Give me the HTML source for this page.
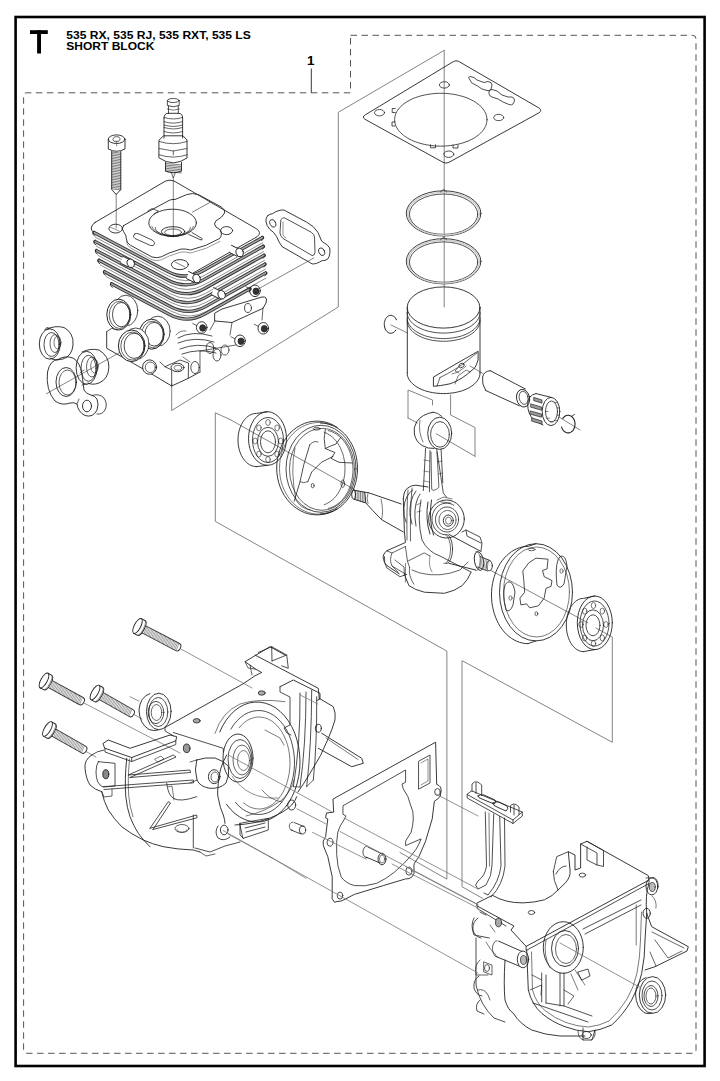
<!DOCTYPE html>
<html><head><meta charset="utf-8">
<style>
html,body{margin:0;padding:0;background:#fff;width:720px;height:1081px;overflow:hidden}
svg{position:absolute;left:0;top:0}
.t{font-family:"Liberation Sans",sans-serif;font-weight:bold;fill:#000}
</style></head>
<body>
<svg width="720" height="1081" viewBox="0 0 720 1081">
<rect x="15.6" y="17" width="689" height="1049" fill="none" stroke="#000" stroke-width="2.6"/>
<rect x="30" y="30.2" width="17.8" height="3.8" fill="#000"/><rect x="37.1" y="30.2" width="3.9" height="23.3" fill="#000"/>
<text class="t" x="66.3" y="38.8" font-size="11.4" textLength="184.5" lengthAdjust="spacingAndGlyphs">535 RX, 535 RJ, 535 RXT, 535 LS</text>
<text class="t" x="66.3" y="50.4" font-size="11.4" textLength="88" lengthAdjust="spacingAndGlyphs">SHORT BLOCK</text>
<text class="t" x="307" y="65.2" font-size="13.5">1</text>
<line x1="311.3" y1="68.5" x2="311.3" y2="92.8" stroke="#222" stroke-width="0.9"/>
<path d="M350.5 35.3 H692.5 Q696 35.3 696 38.8 V1049.8 Q696 1053.3 692.5 1053.3 H27 Q23.6 1053.3 23.6 1049.8 V95.8 Q23.6 92.8 26.6 92.8 H350.5 Z" fill="none" stroke="#555" stroke-width="1" stroke-dasharray="6.5 4.5"/>
<g id="art" fill="none" stroke="#111" stroke-width="0.9" stroke-linejoin="round" stroke-linecap="round">
<path d="M444.2 50.4 L338.3 112.3 V307 L171.7 410.5 V384" stroke="#777" stroke-width="0.9" fill="none" />
<line x1="444.2" y1="50.4" x2="444.2" y2="307.0" stroke="#777" stroke-width="0.9"/>
<line x1="173.3" y1="178.0" x2="173.3" y2="237.0" stroke="#777" stroke-width="0.9"/>
<line x1="116.2" y1="194.0" x2="116.2" y2="228.0" stroke="#777" stroke-width="0.9"/>
<line x1="313.8" y1="258.0" x2="256.4" y2="290.0" stroke="#777" stroke-width="0.9"/>
<line x1="46.3" y1="393.8" x2="137.5" y2="342.5" stroke="#777" stroke-width="0.9"/>
<line x1="391.0" y1="325.0" x2="407.5" y2="333.0" stroke="#777" stroke-width="0.9"/>
<line x1="470.0" y1="366.0" x2="483.0" y2="373.5" stroke="#777" stroke-width="0.9"/>
<line x1="559.0" y1="417.0" x2="580.0" y2="430.0" stroke="#777" stroke-width="0.9"/>
<path d="M408 418 V390 L432.5 400 V405" stroke="#777" stroke-width="0.9" fill="none" />
<path d="M408 418 L417.5 423" stroke="#777" stroke-width="0.9" fill="none" />
<path d="M450.6 395 V415 L475 427.5 V456.3" stroke="#777" stroke-width="0.9" fill="none" />
<line x1="436.3" y1="433.8" x2="475.0" y2="456.3" stroke="#777" stroke-width="0.9"/>
<path d="M230 419.5 L215.3 412.8 V521.4 L446.9 651.1 V879.2 L400 852.5" stroke="#777" stroke-width="0.9" fill="none" />
<line x1="230.0" y1="419.5" x2="354.5" y2="489.5" stroke="#777" stroke-width="0.9"/>
<line x1="490.0" y1="570.0" x2="587.8" y2="622.8" stroke="#777" stroke-width="0.9"/>
<path d="M596 628 L612.3 637 V742.3 L462 660.6 V886.7 L482.5 898.3" stroke="#777" stroke-width="0.9" fill="none" />
<path d="M453.5 61.5 Q456 60 458.5 61.3 L539 108 Q542.5 110.5 539 112.8 L449 162.3 Q446 164 443 162.3 L365 119.3 Q361.5 117 365 115 Z" stroke="#222" stroke-width="0.9" fill="none" />
<path d="M487.0 119.7 L486.9 121.1 L486.7 122.5 L486.4 123.8 L486.0 125.2 L485.4 126.5 L484.7 127.9 L483.9 129.2 L483.0 130.4 L482.0 131.7 L480.8 132.9 L479.5 134.1 L478.2 135.2 L476.7 136.3 L475.1 137.4 L473.5 138.4 L471.7 139.3 L469.9 140.2 L468.0 141.1 L466.0 141.8 L463.9 142.6 L461.8 143.2 L459.6 143.8 L457.4 144.3 L455.1 144.8 L452.8 145.2 L450.4 145.5 L448.0 145.8 L445.6 146.0 L443.2 146.1 L440.8 146.1 L438.4 146.1 L436.0 146.0 L433.6 145.8 L431.2 145.5 L428.8 145.2 L426.5 144.8 L424.2 144.3 L422.0 143.8 L419.8 143.2 L417.7 142.6 L415.6 141.8 L413.6 141.1 L411.7 140.2 L409.9 139.3 L408.1 138.4 L406.5 137.4 L404.9 136.3 L403.4 135.2 L402.1 134.1 L400.8 132.9 L399.6 131.7 L398.6 130.4 L397.7 129.2 L396.9 127.9 L396.2 126.5 L395.6 125.2 L395.2 123.8 L394.9 122.5 L394.7 121.1 L394.6 119.7 L394.7 118.3 L394.9 116.9 L395.2 115.6 L395.6 114.2 L396.2 112.9 L396.9 111.5 L397.7 110.2 L398.6 109.0 L399.6 107.7 L400.8 106.5 L402.1 105.3 L403.4 104.2 L404.9 103.1 L406.5 102.0 L408.1 101.0 L409.9 100.1 L411.7 99.2 L413.6 98.3 L415.6 97.6 L417.7 96.8 L419.8 96.2 L422.0 95.6 L424.2 95.1 L426.5 94.6 L428.8 94.2 L431.2 93.9 L433.6 93.6 L436.0 93.4 L438.4 93.3 L440.8 93.3 L443.2 93.3 L445.6 93.4 L448.0 93.6 L450.4 93.9 L452.8 94.2 L455.1 94.6 L457.4 95.1 L459.6 95.6 L461.8 96.2 L463.9 96.8 L466.0 97.6 L468.0 98.3 L469.9 99.2 L471.7 100.1 L473.5 101.0 L475.1 102.0 L476.7 103.1 L478.2 104.2 L479.5 105.3 L480.8 106.5 L482.0 107.7 L483.0 109.0 L483.9 110.2 L484.7 111.5 L485.4 112.9 L486.0 114.2 L486.4 115.6 L486.7 116.9 L486.9 118.3 L487.0 119.7 Z" stroke="#222" stroke-width="0.8" fill="none" />
<path d="M395.2 108.5 L392.2 108.5 L392.2 112.5 L395.2 112.5" stroke="#222" stroke-width="0.8" fill="none" />
<path d="M395 122 L392 122 L392 126 L395 126" stroke="#222" stroke-width="0.8" fill="none" />
<path d="M430.5 144.8 L430.5 147.8 L435.5 147.8 L435.5 144.8" stroke="#222" stroke-width="0.8" fill="none" />
<path d="M453.0 145 L453.0 148 L458.0 148 L458.0 145" stroke="#222" stroke-width="0.8" fill="none" />
<ellipse cx="379.5" cy="112.7" rx="5.0" ry="3.2" stroke="#222" stroke-width="0.8" fill="none"/>
<ellipse cx="444.4" cy="84.9" rx="5.0" ry="3.2" stroke="#222" stroke-width="0.8" fill="none"/>
<ellipse cx="498.7" cy="117.5" rx="5.0" ry="3.2" stroke="#222" stroke-width="0.8" fill="none"/>
<ellipse cx="448.8" cy="154.2" rx="5.0" ry="3.2" stroke="#222" stroke-width="0.8" fill="none"/>
<path d="M469 78.5 Q467.5 77 470 76.5 L474 77.5 L477 80 L484 82.5 L488 81.5 Q492 82 492 85 L491 89.5 Q490 91.5 487 90.5 L482 89 L477.5 86 L472 83 Z" stroke="#222" stroke-width="0.8" fill="none" />
<path d="M489 91.5 Q489 89 492 89.5 L497 91 L502 95 L508 97 L512 97 Q515 98 514.5 101 L513 104 Q512 105.5 509 104.5 L503 102 L498 99 L492 97 Q489 96 489 94 Z" stroke="#222" stroke-width="0.8" fill="none" />
<ellipse cx="443.6" cy="213.4" rx="37.3" ry="22.6" stroke="#222" stroke-width="0.9" fill="none"/>
<ellipse cx="443.6" cy="214.2" rx="34.2" ry="20.2" stroke="#222" stroke-width="0.8" fill="none"/>
<ellipse cx="443.6" cy="213.8" rx="35.8" ry="21.4" stroke="#ccc" stroke-width="1.4" fill="none"/>
<path d="M440.5 191.8 L443.6 189.4 L446.7 191.8" stroke="#222" stroke-width="0.7" fill="none" />
<ellipse cx="443.6" cy="261.3" rx="37.3" ry="22.6" stroke="#222" stroke-width="0.9" fill="none"/>
<ellipse cx="443.6" cy="262.1" rx="34.2" ry="20.2" stroke="#222" stroke-width="0.8" fill="none"/>
<ellipse cx="443.6" cy="261.7" rx="35.8" ry="21.4" stroke="#ccc" stroke-width="1.4" fill="none"/>
<path d="M440.5 239.7 L443.6 237.3 L446.7 239.7" stroke="#222" stroke-width="0.7" fill="none" />
<ellipse cx="443.6" cy="307.5" rx="36.4" ry="20.6" stroke="#222" stroke-width="0.9" fill="none"/>
<path d="M480.0 312.5 L479.9 314.1 L479.6 315.7 L479.0 317.3 L478.2 318.9 L477.2 320.4 L476.0 321.9 L474.6 323.3 L473.0 324.6 L471.3 325.9 L469.3 327.1 L467.2 328.2 L465.0 329.2 L462.6 330.1 L460.1 330.9 L457.5 331.5 L454.8 332.1 L452.1 332.5 L449.3 332.8 L446.5 333.0 L443.6 333.1 L440.7 333.0 L437.9 332.8 L435.1 332.5 L432.4 332.1 L429.7 331.5 L427.1 330.9 L424.6 330.1 L422.2 329.2 L420.0 328.2 L417.9 327.1 L415.9 325.9 L414.2 324.6 L412.6 323.3 L411.2 321.9 L410.0 320.4 L409.0 318.9 L408.2 317.3 L407.6 315.7 L407.3 314.1 L407.2 312.5" stroke="#222" stroke-width="0.8" fill="none" />
<path d="M480.0 318.0 L479.9 319.6 L479.6 321.2 L479.0 322.8 L478.2 324.4 L477.2 325.9 L476.0 327.4 L474.6 328.8 L473.0 330.1 L471.3 331.4 L469.3 332.6 L467.2 333.7 L465.0 334.7 L462.6 335.6 L460.1 336.4 L457.5 337.0 L454.8 337.6 L452.1 338.0 L449.3 338.3 L446.5 338.5 L443.6 338.6 L440.7 338.5 L437.9 338.3 L435.1 338.0 L432.4 337.6 L429.7 337.0 L427.1 336.4 L424.6 335.6 L422.2 334.7 L420.0 333.7 L417.9 332.6 L415.9 331.4 L414.2 330.1 L412.6 328.8 L411.2 327.4 L410.0 325.9 L409.0 324.4 L408.2 322.8 L407.6 321.2 L407.3 319.6 L407.2 318.0" stroke="#222" stroke-width="0.8" fill="none" />
<path d="M480.0 320.7 L479.9 322.3 L479.6 323.9 L479.0 325.5 L478.2 327.1 L477.2 328.6 L476.0 330.1 L474.6 331.5 L473.0 332.8 L471.3 334.1 L469.3 335.3 L467.2 336.4 L465.0 337.4 L462.6 338.3 L460.1 339.1 L457.5 339.7 L454.8 340.3 L452.1 340.7 L449.3 341.0 L446.5 341.2 L443.6 341.3 L440.7 341.2 L437.9 341.0 L435.1 340.7 L432.4 340.3 L429.7 339.7 L427.1 339.1 L424.6 338.3 L422.2 337.4 L420.0 336.4 L417.9 335.3 L415.9 334.1 L414.2 332.8 L412.6 331.5 L411.2 330.1 L410.0 328.6 L409.0 327.1 L408.2 325.5 L407.6 323.9 L407.3 322.3 L407.2 320.7" stroke="#222" stroke-width="0.8" fill="none" />
<path d="M407.3 307.5 V373 " stroke="#222" stroke-width="0.9" fill="none" />
<path d="M480.0 373.0 L479.9 374.6 L479.6 376.2 L479.0 377.8 L478.2 379.4 L477.2 380.9 L476.0 382.4 L474.6 383.8 L473.0 385.1 L471.3 386.4 L469.3 387.6 L467.2 388.7 L465.0 389.7 L462.6 390.6 L460.1 391.4 L457.5 392.0 L454.8 392.6 L452.1 393.0 L449.3 393.3 L446.5 393.5 L443.6 393.6 L440.7 393.5 L437.9 393.3 L435.1 393.0 L432.4 392.6 L429.7 392.0 L427.1 391.4 L424.6 390.6 L422.2 389.7 L420.0 388.7 L417.9 387.6 L415.9 386.4 L414.2 385.1 L412.6 383.8 L411.2 382.4 L410.0 380.9 L409.0 379.4 L408.2 377.8 L407.6 376.2 L407.3 374.6 L407.2 373.0" stroke="#222" stroke-width="0.9" fill="none" />
<line x1="480.0" y1="307.5" x2="480.0" y2="373.0" stroke="#222" stroke-width="0.9"/>
<path d="M433.8 376.9 Q452 366 478.1 351.3 L478.1 360 Q476 366 475 367.5 Q462 380 450 383.8 Q440 386 433.8 386.3 Z" stroke="#222" stroke-width="0.9" fill="none" />
<path d="M440 377.5 L437 386 M440 377.5 Q456 370 468 360 Q474 355 477 353" stroke="#222" stroke-width="0.7" fill="none" />
<path d="M452 374 Q460 372 466 366 M455 384 L458 376 L466 370 L470 372" stroke="#222" stroke-width="0.6" fill="none" />
<ellipse cx="461.5" cy="365.5" rx="2.8" ry="2.0" stroke="#222" stroke-width="0.8" fill="none" transform="rotate(-30 461.5 365.5)"/>
<path d="M458 368 L455 371 L459 373" stroke="#222" stroke-width="0.6" fill="none" />
<path d="M490.3 370.7 Q484 371 482.6 377 Q481.5 384 485.7 390.5 M490.3 370.7 L525.4 389 M485.7 390.5 L519.3 405.8" stroke="#222" stroke-width="0.9" fill="none" />
<ellipse cx="523.1" cy="398.2" rx="6.5" ry="8.9" stroke="#222" stroke-width="0.9" fill="none" transform="rotate(-12 523.1 398.2)"/>
<ellipse cx="523.6" cy="397.8" rx="4.4" ry="6.6" stroke="#222" stroke-width="0.7" fill="none" transform="rotate(-12 523.6 397.8)"/>
<path d="M536 393.6 Q528 395 527.7 404 Q527.5 414 534 420 L543 425" stroke="#222" stroke-width="0.9" fill="none" />
<path d="M536 393.6 L551.3 397.4" stroke="#222" stroke-width="0.9" fill="none" />
<ellipse cx="551.0" cy="411.5" rx="8.8" ry="14.1" stroke="#222" stroke-width="0.9" fill="none"/>
<ellipse cx="551.5" cy="411.5" rx="6.0" ry="10.5" stroke="#222" stroke-width="0.8" fill="none"/>
<path d="M534 397.5 L542 400 L542 403.2 L534 400.7 Z" stroke="#222" stroke-width="0.7" fill="#9a9a9a" />
<path d="M531 404 L541.5 407 L541.5 410.2 L531 407.2 Z" stroke="#222" stroke-width="0.7" fill="#9a9a9a" />
<path d="M530.5 411 L541.5 414 L541.5 417.2 L530.5 414.2 Z" stroke="#222" stroke-width="0.7" fill="#9a9a9a" />
<path d="M532 418 L542 421 L542 424.2 L532 421.2 Z" stroke="#222" stroke-width="0.7" fill="#9a9a9a" />
<line x1="554.5" y1="402.4" x2="557.0" y2="402.4" stroke="#222" stroke-width="0.6"/>
<line x1="557.1" y1="407.9" x2="559.6" y2="407.9" stroke="#222" stroke-width="0.6"/>
<line x1="557.1" y1="415.1" x2="559.6" y2="415.1" stroke="#222" stroke-width="0.6"/>
<line x1="554.5" y1="420.6" x2="557.0" y2="420.6" stroke="#222" stroke-width="0.6"/>
<line x1="550.5" y1="421.8" x2="553.0" y2="421.8" stroke="#222" stroke-width="0.6"/>
<line x1="546.9" y1="418.2" x2="549.4" y2="418.2" stroke="#222" stroke-width="0.6"/>
<line x1="545.5" y1="411.5" x2="548.0" y2="411.5" stroke="#222" stroke-width="0.6"/>
<path d="M395.8 330.1 L395.2 330.9 L394.6 331.6 L393.9 332.2 L393.1 332.7 L392.3 333.0 L391.5 333.2 L390.7 333.3 L389.9 333.2 L389.1 333.0 L388.3 332.6 L387.6 332.1 L386.9 331.5 L386.3 330.7 L385.7 329.9 L385.2 329.0 L384.9 328.0 L384.6 326.9 L384.4 325.8 L384.3 324.7 L384.3 323.5 L384.4 322.4 L384.7 321.3 L385.0 320.2 L385.4 319.3 L385.9 318.4 L386.5 317.6 L387.1 316.9 L387.8 316.3 L388.6 315.8 L389.4 315.5 L390.2 315.3 L391.0 315.3 L391.8 315.4 L392.6 315.7 L393.4 316.1 L394.1 316.6 L394.8 317.2 L395.4 318.0 L396.0 318.9 L396.4 319.8" stroke="#222" stroke-width="1.0" fill="none" />
<path d="M562.8 418.4 L563.4 417.6 L564.1 416.9 L564.9 416.3 L565.7 415.8 L566.6 415.5 L567.5 415.3 L568.4 415.3 L569.3 415.4 L570.2 415.7 L571.0 416.1 L571.8 416.7 L572.5 417.4 L573.2 418.2 L573.8 419.1 L574.2 420.0 L574.6 421.1 L574.8 422.2 L575.0 423.3 L575.0 424.5 L574.9 425.6 L574.7 426.7 L574.4 427.8 L573.9 428.8 L573.4 429.8 L572.8 430.6 L572.1 431.3 L571.3 431.9 L570.5 432.4 L569.6 432.7 L568.7 432.9 L567.8 432.9 L566.9 432.8 L566.0 432.5 L565.2 432.1 L564.4 431.5 L563.7 430.8 L563.0 430.0 L562.4 429.1 L562.0 428.2 L561.6 427.1" stroke="#222" stroke-width="1.1" fill="none" />
<path d="M572 416 L574.5 414.5" stroke="#222" stroke-width="0.8" fill="none" />
<ellipse cx="173.3" cy="100.5" rx="5.8" ry="2.0" stroke="#222" stroke-width="0.8" fill="none"/>
<path d="M167.4 100.5 V105.5 Q173.3 108 179.2 105.5 V100.5" stroke="#222" stroke-width="0.8" fill="none" />
<path d="M168.5 106 V113.5 M178.3 106 V113.5" stroke="#222" stroke-width="0.8" fill="none" />
<path d="M167.3 109 Q173.3 111.5 179.4 109" stroke="#222" stroke-width="0.6" fill="none" />
<path d="M164 118 Q164 113.5 168 113.3 L178.5 113.3 Q182.6 113.5 182.6 118 V138 M164 118 V138" stroke="#222" stroke-width="0.9" fill="none" />
<path d="M164.2 117.5 Q173.3 120.5 182.4 117.5" stroke="#222" stroke-width="0.7" fill="none" />
<path d="M164.2 121.7 Q173.3 124.7 182.4 121.7" stroke="#222" stroke-width="0.7" fill="none" />
<path d="M164.2 125 Q173.3 128 182.4 125" stroke="#222" stroke-width="0.7" fill="none" />
<path d="M164.2 127.5 Q173.3 130.5 182.4 127.5" stroke="#222" stroke-width="0.7" fill="none" />
<path d="M164.2 131.5 Q173.3 134.5 182.4 131.5" stroke="#222" stroke-width="0.7" fill="none" />
<path d="M159.2 140 L163.5 135.8 L183 135.8 L187 140 V158 Q180 162.8 173.3 162.8 Q166 162.8 159.2 158 Z" stroke="#222" stroke-width="0.9" fill="none" />
<path d="M159.2 141.5 Q173.3 146 187 141.5" stroke="#222" stroke-width="0.7" fill="none" />
<path d="M159.2 148.5 L173.3 151 L187 148.5 M173.3 151 V155" stroke="#222" stroke-width="0.7" fill="none" />
<path d="M159.2 154.8 Q173.3 159.5 187 154.8" stroke="#222" stroke-width="0.7" fill="none" />
<path d="M165.5 162.3 V171 Q173.3 174.5 181.5 171 V162.3" stroke="#222" stroke-width="0.9" fill="none" />
<path d="M165.8 163.5 L181.2 164.9" stroke="#222" stroke-width="0.6" fill="none" />
<path d="M165.8 165.1 L181.2 166.5" stroke="#222" stroke-width="0.6" fill="none" />
<path d="M165.8 166.7 L181.2 168.1" stroke="#222" stroke-width="0.6" fill="none" />
<path d="M165.8 168.3 L181.2 169.7" stroke="#222" stroke-width="0.6" fill="none" />
<path d="M165.8 169.9 L181.2 171.3" stroke="#222" stroke-width="0.6" fill="none" />
<path d="M165.8 171.5 L181.2 172.9" stroke="#222" stroke-width="0.6" fill="none" />
<path d="M171.5 173 L173.3 178 L175.2 173" stroke="#222" stroke-width="0.7" fill="none" />
<ellipse cx="116.6" cy="139.2" rx="8.3" ry="4.3" stroke="#222" stroke-width="0.9" fill="none"/>
<path d="M108.3 139.2 V149 Q116.6 153.5 125 149 V139.2" stroke="#222" stroke-width="0.9" fill="none" />
<path d="M113 139 L114.5 136.8 L118.7 136.8 L120.3 139 L118.7 141.3 L114.5 141.3 Z" stroke="#222" stroke-width="0.7" fill="none" />
<path d="M116.6 141.3 V146" stroke="#222" stroke-width="0.5" fill="none" />
<path d="M111.7 151.5 V189.5 L116.2 194.5 L120.8 189.5 V151.5" stroke="#222" stroke-width="0.9" fill="none" />
<path d="M111.8 152.0 L120.7 153.2" stroke="#222" stroke-width="0.6" fill="none" />
<path d="M111.8 153.6 L120.7 154.8" stroke="#222" stroke-width="0.6" fill="none" />
<path d="M111.8 155.2 L120.7 156.4" stroke="#222" stroke-width="0.6" fill="none" />
<path d="M111.8 156.8 L120.7 158.0" stroke="#222" stroke-width="0.6" fill="none" />
<path d="M111.8 158.4 L120.7 159.6" stroke="#222" stroke-width="0.6" fill="none" />
<path d="M111.8 160.0 L120.7 161.2" stroke="#222" stroke-width="0.6" fill="none" />
<path d="M111.8 161.6 L120.7 162.8" stroke="#222" stroke-width="0.6" fill="none" />
<path d="M111.8 163.2 L120.7 164.4" stroke="#222" stroke-width="0.6" fill="none" />
<path d="M111.8 164.8 L120.7 166.0" stroke="#222" stroke-width="0.6" fill="none" />
<path d="M111.8 166.4 L120.7 167.6" stroke="#222" stroke-width="0.6" fill="none" />
<path d="M111.8 168.0 L120.7 169.2" stroke="#222" stroke-width="0.6" fill="none" />
<path d="M111.8 169.6 L120.7 170.8" stroke="#222" stroke-width="0.6" fill="none" />
<path d="M111.8 171.2 L120.7 172.4" stroke="#222" stroke-width="0.6" fill="none" />
<path d="M111.8 172.8 L120.7 174.0" stroke="#222" stroke-width="0.6" fill="none" />
<path d="M111.8 174.4 L120.7 175.6" stroke="#222" stroke-width="0.6" fill="none" />
<path d="M111.8 176.0 L120.7 177.2" stroke="#222" stroke-width="0.6" fill="none" />
<path d="M111.8 177.6 L120.7 178.8" stroke="#222" stroke-width="0.6" fill="none" />
<path d="M111.8 179.2 L120.7 180.4" stroke="#222" stroke-width="0.6" fill="none" />
<path d="M111.8 180.8 L120.7 182.0" stroke="#222" stroke-width="0.6" fill="none" />
<path d="M111.8 182.4 L120.7 183.6" stroke="#222" stroke-width="0.6" fill="none" />
<path d="M111.8 184.0 L120.7 185.2" stroke="#222" stroke-width="0.6" fill="none" />
<path d="M111.8 185.6 L120.7 186.8" stroke="#222" stroke-width="0.6" fill="none" />
<path d="M111.8 187.2 L120.7 188.4" stroke="#222" stroke-width="0.6" fill="none" />
<path d="M111.8 188.8 L120.7 190.0" stroke="#222" stroke-width="0.6" fill="none" />
<path d="M95 222.5 L163 182.5 Q169 178.5 175 181.5 L256 228.5 Q262.5 232.5 257 236.8 L190 274.8 Q182 279.6 174 275.4 L97 234.6 Q90 231 91.5 227 Q92.5 224 95 222.5 Z" stroke="#222" stroke-width="0.9" fill="none" />
<path d="M94.0 232.5 L167.5 271.4 Q185.2 280.8 202.6 271.0 L262.5 237.5" stroke="#333" stroke-width="3.3" fill="none"/>
<path d="M94.0 232.5 L167.5 271.4 Q185.2 280.8 202.6 271.0 L262.5 237.5" stroke="#a8a8a8" stroke-width="1.5" fill="none"/>
<path d="M95.5 237.3 L168.7 276.1 Q186.4 285.5 203.9 275.7 L262.8 242.7" stroke="#444" stroke-width="0.6" fill="none" />
<path d="M94.0 231.0 Q91.0 234.5 95.0 236.0" stroke="#222" stroke-width="0.8" fill="none" />
<path d="M262.5 236.0 Q265.5 238.5 261.5 240.5" stroke="#222" stroke-width="0.8" fill="none" />
<path d="M95.0 241.4 L168.3 280.3 Q186.0 289.6 203.4 279.9 L263.3 246.3" stroke="#333" stroke-width="3.3" fill="none"/>
<path d="M95.0 241.4 L168.3 280.3 Q186.0 289.6 203.4 279.9 L263.3 246.3" stroke="#a8a8a8" stroke-width="1.5" fill="none"/>
<path d="M96.5 246.2 L169.6 285.0 Q187.2 294.3 204.7 284.5 L263.6 251.5" stroke="#444" stroke-width="0.6" fill="none" />
<path d="M95.0 239.9 Q92.0 243.4 96.0 244.9" stroke="#222" stroke-width="0.8" fill="none" />
<path d="M263.3 244.8 Q266.3 247.3 262.3 249.3" stroke="#222" stroke-width="0.8" fill="none" />
<path d="M96.5 250.6 L169.1 289.1 Q186.8 298.5 204.3 288.7 L264.1 255.2" stroke="#333" stroke-width="3.3" fill="none"/>
<path d="M96.5 250.6 L169.1 289.1 Q186.8 298.5 204.3 288.7 L264.1 255.2" stroke="#a8a8a8" stroke-width="1.5" fill="none"/>
<path d="M98.0 255.4 L170.4 293.8 Q188.1 303.2 205.5 293.4 L264.4 260.4" stroke="#444" stroke-width="0.6" fill="none" />
<path d="M96.5 249.1 Q93.5 252.6 97.5 254.1" stroke="#222" stroke-width="0.8" fill="none" />
<path d="M264.1 253.7 Q267.1 256.2 263.1 258.2" stroke="#222" stroke-width="0.8" fill="none" />
<path d="M99.0 260.3 L170.0 298.0 Q187.6 307.3 205.1 297.6 L264.9 264.1" stroke="#333" stroke-width="3.3" fill="none"/>
<path d="M99.0 260.3 L170.0 298.0 Q187.6 307.3 205.1 297.6 L264.9 264.1" stroke="#a8a8a8" stroke-width="1.5" fill="none"/>
<path d="M100.5 265.1 L171.2 302.6 Q188.9 312.0 206.3 302.2 L265.2 269.2" stroke="#444" stroke-width="0.6" fill="none" />
<path d="M99.0 258.8 Q96.0 262.3 100.0 263.8" stroke="#222" stroke-width="0.8" fill="none" />
<path d="M264.9 262.6 Q267.9 265.1 263.9 267.1" stroke="#222" stroke-width="0.8" fill="none" />
<path d="M104.5 271.7 L170.8 306.8 Q188.5 316.2 205.9 306.4 L265.7 272.9" stroke="#333" stroke-width="3.3" fill="none"/>
<path d="M104.5 271.7 L170.8 306.8 Q188.5 316.2 205.9 306.4 L265.7 272.9" stroke="#a8a8a8" stroke-width="1.5" fill="none"/>
<path d="M106.0 276.5 L172.0 311.5 Q189.7 320.8 207.2 311.1 L266.0 278.1" stroke="#444" stroke-width="0.6" fill="none" />
<path d="M104.5 270.2 Q101.5 273.7 105.5 275.2" stroke="#222" stroke-width="0.8" fill="none" />
<path d="M265.7 271.4 Q268.7 273.9 264.7 275.9" stroke="#222" stroke-width="0.8" fill="none" />
<path d="M111.5 283.8 L169.5 314.5 Q187.2 323.9 204.7 314.1 L250.0 288.8" stroke="#333" stroke-width="3.3" fill="none"/>
<path d="M111.5 283.8 L169.5 314.5 Q187.2 323.9 204.7 314.1 L250.0 288.8" stroke="#a8a8a8" stroke-width="1.5" fill="none"/>
<path d="M111.5 282.3 Q108.5 285.8 112.5 287.3" stroke="#222" stroke-width="0.8" fill="none" />
<path d="M250.0 287.2 Q253.0 289.8 249.0 291.8" stroke="#222" stroke-width="0.8" fill="none" />
<path d="M123.5 225.7 L143.9 214 L169.2 200.4 Q172 199 175 199.5 L186.7 194.6 Q192.5 192.5 198.4 194.6 L221.7 207.2 Q225.5 210 224.6 213 Q223 217 215.9 220.9 Q213 224 216 227 L219.8 229.6 Q223 234 219.8 238.4 L206.2 245.2 L190.6 250 Q185 248.5 180.9 249.1 L169.2 253 L161.4 256.8 Q157 258.5 152 257 L130.3 245.2 Q126.5 243 126.4 239 Q126.5 235 123.5 231.6 Q121 228.5 123.5 225.7 Z" stroke="#222" stroke-width="0.9" fill="none" />
<path d="M126.4 241.5 Q127 246.5 131 248.2 L152 259.8 Q157 261.5 161.4 259.8 L169.2 256 L180.9 252.1 Q185 251.5 190.6 253 L206.2 248.2 L220 241.4" stroke="#555" stroke-width="0.6" fill="none" />
<ellipse cx="172.6" cy="222.8" rx="23.8" ry="13.6" stroke="#222" stroke-width="0.9" fill="none"/>
<path d="M193.3 226.4 L193.0 227.2 L192.6 227.9 L192.1 228.6 L191.5 229.3 L190.8 230.0 L190.0 230.7 L189.1 231.3 L188.2 231.9 L187.2 232.4 L186.1 232.9 L184.9 233.4 L183.7 233.8 L182.5 234.2 L181.1 234.5 L179.8 234.8 L178.4 235.1 L177.0 235.3 L175.5 235.4 L174.1 235.5 L172.6 235.5 L171.1 235.5 L169.7 235.4 L168.2 235.3 L166.8 235.1 L165.4 234.8 L164.1 234.5 L162.7 234.2 L161.5 233.8 L160.3 233.4 L159.1 232.9 L158.0 232.4 L157.0 231.9 L156.1 231.3 L155.2 230.7 L154.4 230.0 L153.7 229.3 L153.1 228.6 L152.6 227.9 L152.2 227.2 L151.9 226.4" stroke="#222" stroke-width="0.7" fill="none" />
<path d="M190.3 227.5 L190.2 228.2 L190.1 228.8 L189.8 229.5 L189.4 230.1 L189.0 230.8 L188.4 231.4 L187.7 231.9 L187.0 232.5 L186.1 233.0 L185.2 233.5 L184.2 234.0 L183.1 234.4 L181.9 234.7 L180.7 235.1 L179.5 235.4 L178.2 235.6 L176.9 235.8 L175.5 235.9 L174.2 236.0 L172.8 236.0 L171.4 236.0 L170.1 235.9 L168.7 235.8 L167.4 235.6 L166.1 235.4 L164.9 235.1 L163.7 234.7 L162.5 234.4 L161.4 234.0 L160.4 233.5 L159.5 233.0 L158.6 232.5 L157.9 231.9 L157.2 231.4 L156.6 230.8 L156.2 230.1 L155.8 229.5 L155.5 228.8 L155.4 228.2 L155.3 227.5" stroke="#222" stroke-width="0.7" fill="none" />
<ellipse cx="173.1" cy="231.6" rx="11.7" ry="4.9" stroke="#222" stroke-width="0.9" fill="none"/>
<ellipse cx="173.1" cy="232.3" rx="8.5" ry="3.3" stroke="#222" stroke-width="0.7" fill="none"/>
<ellipse cx="115.7" cy="228.6" rx="6.8" ry="4.4" stroke="#222" stroke-width="0.9" fill="none"/>
<ellipse cx="179.9" cy="264.6" rx="8.5" ry="5.0" stroke="#222" stroke-width="0.9" fill="none"/>
<ellipse cx="226.6" cy="230.6" rx="6.0" ry="4.0" stroke="#222" stroke-width="0.9" fill="none"/>
<line x1="175.0" y1="262.0" x2="185.0" y2="267.0" stroke="#222" stroke-width="0.6"/>
<line x1="110.0" y1="227.0" x2="119.0" y2="231.0" stroke="#222" stroke-width="0.5"/>
<path d="M134.8 234 Q132 236 135 238.5 L150.5 245.5 Q154 246.5 154.5 243.5 Q154.5 241.5 152 240 L138.5 233.8 Q136.5 233 134.8 234 Z" stroke="#222" stroke-width="0.8" fill="none" />
<path d="M188.7 234.5 L200 239.5 Q203 241 202 238.5 L192 232.5" stroke="#222" stroke-width="0.8" fill="none" />
<path d="M147.8 211.1 L152 208.5 L158.5 211.1 L154 214" stroke="#222" stroke-width="0.7" fill="none" />
<path d="M192.5 212.1 L210 202.4" stroke="#222" stroke-width="0.6" fill="none" />
<path d="M122.8 256.3 L129.8 259.8 M120.8 263.3 L127.8 266.8" stroke="#222" stroke-width="0.8" fill="none"/>
<path d="M122.8 256.3 L129.8 259.8 L127.8 266.8 L120.8 263.3 Z" stroke="none" fill="#fff"/>
<path d="M122.8 256.3 L129.8 259.8 M120.8 263.3 L127.8 266.8" stroke="#222" stroke-width="0.8" fill="none"/>
<ellipse cx="130.8" cy="263.3" rx="3.6" ry="4.4" stroke="#222" stroke-width="0.9" fill="#fff" transform="rotate(-20 130.8 263.3)"/>
<path d="M231.7 245.5 L238.7 249.0 M229.7 252.5 L236.7 256.0" stroke="#222" stroke-width="0.8" fill="none"/>
<path d="M231.7 245.5 L238.7 249.0 L236.7 256.0 L229.7 252.5 Z" stroke="none" fill="#fff"/>
<path d="M231.7 245.5 L238.7 249.0 M229.7 252.5 L236.7 256.0" stroke="#222" stroke-width="0.8" fill="none"/>
<ellipse cx="239.7" cy="252.5" rx="3.6" ry="4.4" stroke="#222" stroke-width="0.9" fill="#fff" transform="rotate(-20 239.7 252.5)"/>
<path d="M188.7 271.6 L195.7 275.1 M186.7 278.6 L193.7 282.1" stroke="#222" stroke-width="0.8" fill="none"/>
<path d="M188.7 271.6 L195.7 275.1 L193.7 282.1 L186.7 278.6 Z" stroke="none" fill="#fff"/>
<path d="M188.7 271.6 L195.7 275.1 M186.7 278.6 L193.7 282.1" stroke="#222" stroke-width="0.8" fill="none"/>
<ellipse cx="196.7" cy="278.6" rx="3.6" ry="4.4" stroke="#222" stroke-width="0.9" fill="#fff" transform="rotate(-20 196.7 278.6)"/>
<path d="M213.7 287.8 L220.7 291.3 M211.7 294.8 L218.7 298.3" stroke="#222" stroke-width="0.8" fill="none"/>
<path d="M213.7 287.8 L220.7 291.3 L218.7 298.3 L211.7 294.8 Z" stroke="none" fill="#fff"/>
<path d="M213.7 287.8 L220.7 291.3 M211.7 294.8 L218.7 298.3" stroke="#222" stroke-width="0.8" fill="none"/>
<ellipse cx="221.7" cy="294.8" rx="3.6" ry="4.4" stroke="#222" stroke-width="0.9" fill="#fff" transform="rotate(-20 221.7 294.8)"/>
<path d="M106.7 331.7 V348.3 L133.3 363.3 L153.3 375 L171.7 386 L188.3 378.3 L200 372" stroke="#222" stroke-width="0.9" fill="none" />
<path d="M106.7 331.7 L111.7 328.3 L117 330" stroke="#222" stroke-width="0.8" fill="none" />
<path d="M160 362 L165 366.7 L171.7 370 L171.7 386 M165 366.7 L180 360 L188.5 363 L188.3 378.3" stroke="#222" stroke-width="0.8" fill="none" />
<ellipse cx="125.8" cy="310.6" rx="12.0" ry="15.4" stroke="#222" stroke-width="0.8" fill="#fff"/>
<ellipse cx="118.8" cy="314.6" rx="12.0" ry="15.4" stroke="#222" stroke-width="1.0" fill="#fff"/>
<ellipse cx="119.6" cy="314.9" rx="10.4" ry="13.6" stroke="#222" stroke-width="0.7" fill="none"/>
<ellipse cx="121.3" cy="314.6" rx="8.8" ry="12.2" stroke="#222" stroke-width="0.8" fill="none"/>
<ellipse cx="157.7" cy="331.2" rx="12.5" ry="15.0" stroke="#222" stroke-width="0.8" fill="#fff"/>
<ellipse cx="151.7" cy="334.2" rx="12.5" ry="15.0" stroke="#222" stroke-width="1.0" fill="#fff"/>
<ellipse cx="152.5" cy="334.5" rx="10.9" ry="13.2" stroke="#222" stroke-width="0.7" fill="none"/>
<ellipse cx="154.2" cy="334.2" rx="9.3" ry="11.8" stroke="#222" stroke-width="0.8" fill="none"/>
<ellipse cx="135.7" cy="343.8" rx="13.3" ry="15.8" stroke="#222" stroke-width="0.8" fill="#fff"/>
<ellipse cx="131.7" cy="345.8" rx="13.3" ry="15.8" stroke="#222" stroke-width="1.0" fill="#fff"/>
<ellipse cx="132.5" cy="346.1" rx="11.7" ry="14.0" stroke="#222" stroke-width="0.7" fill="none"/>
<ellipse cx="134.2" cy="345.8" rx="10.1" ry="12.6" stroke="#222" stroke-width="0.8" fill="none"/>
<ellipse cx="149.6" cy="367.1" rx="7.0" ry="7.2" stroke="#222" stroke-width="0.9" fill="#fff"/>
<ellipse cx="150.3" cy="367.3" rx="5.0" ry="5.3" stroke="#222" stroke-width="0.7" fill="none"/>
<ellipse cx="177.5" cy="367.5" rx="6.5" ry="4.2" stroke="#222" stroke-width="0.9" fill="none"/>
<ellipse cx="178.0" cy="367.8" rx="4.0" ry="2.5" stroke="#222" stroke-width="0.6" fill="none"/>
<ellipse cx="195.0" cy="367.5" rx="4.2" ry="6.0" stroke="#222" stroke-width="0.8" fill="none"/>
<path d="M178 338 Q192 330 212 336 M178 343 Q195 336 214 342 M180 349 Q197 342 216 348 M182 354 Q199 348 216 353" stroke="#222" stroke-width="0.8" fill="none" />
<path d="M176 335 Q180 330 186 331 M183 357 L190 362" stroke="#222" stroke-width="0.6" fill="none" />
<ellipse cx="210.0" cy="348.0" rx="3.8" ry="5.5" stroke="#222" stroke-width="0.8" fill="none"/>
<path d="M215 313 L222 309 L262 297 Q268 296 266 303 L263 308.3 L232 322.5 L215 321 Z" stroke="#222" stroke-width="0.9" fill="none" />
<ellipse cx="248.0" cy="308.0" rx="3.5" ry="4.5" stroke="#222" stroke-width="0.8" fill="none"/>
<path d="M215 321 L210 330 M232 322.5 L230 335 M263 308 L262 320" stroke="#222" stroke-width="0.7" fill="none" />
<ellipse cx="201.7" cy="327.5" rx="5.3" ry="5.8" stroke="#222" stroke-width="0.9" fill="none"/>
<ellipse cx="202.7" cy="328.0" rx="3.0" ry="3.3" stroke="#222" stroke-width="0.8" fill="#333"/>
<path d="M196.7 325.5 L192.7 323.5" stroke="#222" stroke-width="0.7" fill="none" />
<ellipse cx="240.0" cy="340.8" rx="5.3" ry="5.8" stroke="#222" stroke-width="0.9" fill="none"/>
<ellipse cx="241.0" cy="341.3" rx="3.0" ry="3.3" stroke="#222" stroke-width="0.8" fill="#333"/>
<path d="M235.0 338.8 L231.0 336.8" stroke="#222" stroke-width="0.7" fill="none" />
<ellipse cx="263.3" cy="328.3" rx="5.3" ry="5.8" stroke="#222" stroke-width="0.9" fill="none"/>
<ellipse cx="264.3" cy="328.8" rx="3.0" ry="3.3" stroke="#222" stroke-width="0.8" fill="#333"/>
<path d="M258.3 326.3 L254.3 324.3" stroke="#222" stroke-width="0.7" fill="none" />
<ellipse cx="255.0" cy="290.8" rx="5.3" ry="5.8" stroke="#222" stroke-width="0.9" fill="none"/>
<ellipse cx="256.0" cy="291.3" rx="3.0" ry="3.3" stroke="#222" stroke-width="0.8" fill="#333"/>
<path d="M250.0 288.8 L246.0 286.8" stroke="#222" stroke-width="0.7" fill="none" />
<path d="M200 351 L236 345 M200 351 V372" stroke="#222" stroke-width="0.7" fill="none" />
<ellipse cx="217.0" cy="355.0" rx="4.0" ry="6.0" stroke="#222" stroke-width="0.8" fill="none"/>
<ellipse cx="225.0" cy="350.0" rx="4.0" ry="5.0" stroke="#222" stroke-width="0.7" fill="none"/>
<path d="M267.8 215.6 Q270 213.5 272.2 213.9 Q276 211 278.9 210.6 Q281 209.8 283.9 210 L306.7 222.2 Q314 226 317.8 232.2 L321.7 241.1 Q324 243 326.7 244.4 Q331 247.5 330 252.2 Q329.5 257 327.8 258.9 Q325 261 322.2 260.6 Q319 262.5 316.7 263.3 Q314 264.2 312.2 263.9 L282.2 246.7 Q278.5 242 276.7 236.7 L273.3 232.2 Q269 229.5 267.2 225.6 Q265.4 221.5 266.1 218.9 Q266.6 216.8 267.8 215.6 Z" stroke="#222" stroke-width="0.9" fill="none" />
<path d="M281.1 219.4 Q282.5 217.5 284.4 217.8 L311.5 232.4 Q314.3 234.5 314.5 237 L315 252.5 Q314.5 255.8 312.2 255.6 L283 238.5 Q280.2 236 280 233.3 Z" stroke="#222" stroke-width="0.8" fill="none" />
<path d="M283 222 V235 Q284 237 286 238" stroke="#222" stroke-width="0.5" fill="none" />
<ellipse cx="272.8" cy="223.3" rx="2.8" ry="4.0" stroke="#222" stroke-width="0.8" fill="none" transform="rotate(-25 272.8 223.3)"/>
<ellipse cx="321.7" cy="251.7" rx="2.8" ry="4.0" stroke="#222" stroke-width="0.8" fill="none" transform="rotate(-25 321.7 251.7)"/>
<path d="M46 329.5 Q55 325 64 327.5 Q74 333 73 345 Q72 356 63 359 Q54 361 50 358" stroke="#222" stroke-width="0.9" fill="none" />
<ellipse cx="49.8" cy="344.0" rx="10.5" ry="15.2" stroke="#222" stroke-width="0.9" fill="none"/>
<ellipse cx="51.5" cy="344.5" rx="7.5" ry="12.0" stroke="#222" stroke-width="0.8" fill="none"/>
<ellipse cx="55.0" cy="343.5" rx="5.0" ry="9.0" stroke="#222" stroke-width="0.7" fill="none"/>
<ellipse cx="57.5" cy="342.5" rx="3.5" ry="6.5" stroke="#222" stroke-width="0.6" fill="none"/>
<path d="M44.5 330 L47 327.5 L50 328.5" stroke="#222" stroke-width="0.8" fill="none" />
<path d="M82 352 Q90 348 99 350 Q109 356 108.9 367 Q108.5 379 99 383 Q92 385.5 88 383" stroke="#222" stroke-width="0.9" fill="none" />
<ellipse cx="86.6" cy="367.8" rx="10.5" ry="16.5" stroke="#222" stroke-width="0.9" fill="none"/>
<ellipse cx="88.5" cy="368.3" rx="7.5" ry="13.0" stroke="#222" stroke-width="0.8" fill="none"/>
<ellipse cx="92.0" cy="367.0" rx="5.5" ry="10.0" stroke="#222" stroke-width="0.7" fill="none"/>
<ellipse cx="94.5" cy="366.0" rx="3.8" ry="7.0" stroke="#222" stroke-width="0.6" fill="none"/>
<path d="M58 359.5 Q50 360 47.5 372 Q45.5 390 55 401 Q62 406 70 403 Q74 402 77 404 Q78 412 85 415.5 Q93 418 97 410 Q99 404 97 399 Q95 396 91 395 Q86 394 84 390 Q83 383 82 374 Q80 362 73 358 Q65 355 58 359.5 Z" stroke="#222" stroke-width="0.9" fill="none" />
<ellipse cx="66.2" cy="382.0" rx="10.2" ry="14.5" stroke="#222" stroke-width="0.9" fill="none"/>
<ellipse cx="67.5" cy="382.5" rx="8.5" ry="12.5" stroke="#222" stroke-width="0.7" fill="none"/>
<ellipse cx="87.0" cy="406.0" rx="4.5" ry="5.8" stroke="#222" stroke-width="0.9" fill="none"/>
<path d="M92 395.5 Q99 393 104 398 Q108 404 105 410 Q102 415 97 414" stroke="#222" stroke-width="0.8" fill="none" />
<path d="M80 373 L84 370 M82 385 L87 384 M77 404 L79 399" stroke="#222" stroke-width="0.7" fill="none" />
<path d="M256.5 466.6 L255.0 466.5 L253.6 466.3 L252.2 465.9 L250.8 465.3 L249.4 464.6 L248.1 463.7 L246.8 462.7 L245.6 461.5 L244.5 460.2 L243.4 458.8 L242.4 457.3 L241.5 455.6 L240.7 453.9 L240.0 452.1 L239.4 450.2 L238.9 448.2 L238.5 446.2 L238.2 444.2 L238.1 442.1 L238.0 440.0 L238.1 437.9 L238.2 435.8 L238.5 433.8 L238.9 431.8 L239.4 429.8 L240.0 427.9 L240.7 426.1 L241.5 424.4 L242.4 422.7 L243.4 421.2 L244.5 419.8 L245.6 418.5 L246.8 417.3 L248.1 416.3 L249.4 415.4 L250.8 414.7 L252.2 414.1 L253.6 413.7 L255.0 413.5 L256.5 413.4 L267.5 411.7 M256.5 466.6 L267.5 465.3" stroke="#222" stroke-width="0.9" fill="none" />
<ellipse cx="267.5" cy="438.5" rx="19.0" ry="26.8" stroke="#222" stroke-width="0.9" fill="none"/>
<ellipse cx="268.0" cy="440.0" rx="15.5" ry="22.5" stroke="#222" stroke-width="0.8" fill="none"/>
<ellipse cx="268.0" cy="441.8" rx="10.5" ry="14.5" stroke="#222" stroke-width="0.8" fill="none"/>
<ellipse cx="268.0" cy="441.8" rx="7.5" ry="11.0" stroke="#222" stroke-width="0.8" fill="none"/>
<ellipse cx="280.8" cy="441.0" rx="2.3" ry="3.0" stroke="#222" stroke-width="0.6" fill="none"/>
<ellipse cx="277.1" cy="454.1" rx="2.3" ry="3.0" stroke="#222" stroke-width="0.6" fill="none"/>
<ellipse cx="268.0" cy="459.5" rx="2.3" ry="3.0" stroke="#222" stroke-width="0.6" fill="none"/>
<ellipse cx="258.9" cy="454.1" rx="2.3" ry="3.0" stroke="#222" stroke-width="0.6" fill="none"/>
<ellipse cx="255.2" cy="441.0" rx="2.3" ry="3.0" stroke="#222" stroke-width="0.6" fill="none"/>
<ellipse cx="258.9" cy="427.9" rx="2.3" ry="3.0" stroke="#222" stroke-width="0.6" fill="none"/>
<ellipse cx="268.0" cy="422.5" rx="2.3" ry="3.0" stroke="#222" stroke-width="0.6" fill="none"/>
<ellipse cx="277.1" cy="427.9" rx="2.3" ry="3.0" stroke="#222" stroke-width="0.6" fill="none"/>
<path d="M337.1 508.6 L333.4 510.8 L329.5 512.6 L325.4 513.9 L321.2 514.6 L317.0 514.9 L312.8 514.6 L308.6 513.9 L304.5 512.6 L300.6 510.8 L296.9 508.6 L293.3 505.9 L290.0 502.9 L287.1 499.4 L284.4 495.6 L282.1 491.4 L280.2 487.1 L278.7 482.5 L277.6 477.8 L276.9 472.9 L276.7 468.0 L276.9 463.1 L277.6 458.2 L278.7 453.5 L280.2 448.9 L282.1 444.6 L284.4 440.4 L287.1 436.6 L290.0 433.1 L293.3 430.1 L296.8 427.4 L300.6 425.2 L304.5 423.4 L308.6 422.1 L312.8 421.4 L317.0 421.1 L321.2 421.4 L325.4 422.1 L329.5 423.4 L333.4 425.2 L337.1 427.4" stroke="#222" stroke-width="0.9" fill="none" />
<path d="M320.5 423.0 L323.4 423.1 L326.3 423.6 L329.1 424.3 L331.9 425.2 L334.7 426.5 L337.3 428.0 L339.8 429.7 L342.2 431.7 L344.5 433.9 L346.7 436.3 L348.6 439.0 L350.4 441.8 L352.0 444.7 L353.5 447.8 L354.7 451.1 L355.7 454.4 L356.5 457.9 L357.0 461.4 L357.4 464.9 L357.5 468.5 L357.4 472.1 L357.0 475.6 L356.5 479.1 L355.7 482.6 L354.7 485.9 L353.5 489.2 L352.0 492.3 L350.4 495.2 L348.6 498.0 L346.7 500.7 L344.5 503.1 L342.2 505.3 L339.8 507.3 L337.3 509.0 L334.7 510.5 L331.9 511.8 L329.1 512.7 L326.3 513.4 L323.4 513.9 L320.5 514.0" stroke="#222" stroke-width="0.9" fill="none" />
<ellipse cx="321.0" cy="468.8" rx="35.0" ry="43.5" stroke="#222" stroke-width="0.8" fill="none"/>
<ellipse cx="322.0" cy="469.3" rx="32.5" ry="41.0" stroke="#222" stroke-width="0.7" fill="none"/>
<path d="M324.2 432.3 L326.0 433.0 L327.7 433.9 L329.4 434.9 L331.0 436.0 L332.6 437.3 L334.0 438.7 L335.5 440.3 L336.8 442.0 L338.1 443.8 L339.2 445.7 L340.3 447.7 L341.2 449.8 L342.1 451.9 L342.9 454.1 L343.5 456.4 L344.0 458.8 L344.5 461.2 L344.8 463.6 L344.9 466.0 L345.0 468.5 L344.9 471.0 L344.8 473.4 L344.5 475.8 L344.0 478.2 L343.5 480.6 L342.9 482.9 L342.1 485.1 L341.2 487.2 L340.3 489.3 L339.2 491.3 L338.1 493.2 L336.8 495.0 L335.5 496.7 L334.0 498.3 L332.6 499.7 L331.0 501.0 L329.4 502.1 L327.7 503.1 L326.0 504.0 L324.2 504.7" stroke="#222" stroke-width="0.7" fill="none" />
<path d="M331.8 511.3 L328.3 512.6 L324.6 513.5 L320.9 514.0 L317.1 514.1 L313.4 513.7 L309.7 512.9 L306.1 511.7 L302.6 510.1 L299.3 508.2 L296.1 505.8 L293.2 503.1 L290.4 500.1 L288.0 496.8 L285.8 493.2 L283.9 489.4 L282.3 485.5 L281.1 481.3 L280.2 477.0 L279.7 472.7 L279.5 468.3 L279.7 463.9 L280.2 459.6 L281.1 455.3 L282.3 451.1 L283.9 447.2 L285.8 443.4 L288.0 439.8 L290.4 436.5 L293.2 433.5 L296.1 430.8 L299.3 428.4 L302.6 426.5 L306.1 424.9 L309.7 423.7 L313.4 422.9 L317.1 422.5 L320.9 422.6 L324.6 423.1 L328.3 424.0 L331.8 425.3" stroke="#222" stroke-width="0.6" fill="none" />
<path d="M328.2 430.6 L330.3 431.2 L332.3 431.9 L334.2 432.9 L336.2 434.0 L338.0 435.3 L339.8 436.8 L341.5 438.4 L343.1 440.1 L344.6 442.1 L346.0 444.1 L347.3 446.3 L348.4 448.6 L349.5 451.0 L350.4 453.4 L351.2 456.0 L351.8 458.6 L352.3 461.3 L352.7 464.0 L352.9 466.7 L353.0 469.5 L352.9 472.3 L352.7 475.0 L352.3 477.7 L351.8 480.4 L351.2 483.0 L350.4 485.6 L349.5 488.0 L348.4 490.4 L347.3 492.7 L346.0 494.9 L344.6 496.9 L343.1 498.9 L341.5 500.6 L339.8 502.2 L338.0 503.7 L336.2 505.0 L334.2 506.1 L332.3 507.1 L330.3 507.8 L328.2 508.4" stroke="#222" stroke-width="0.7" fill="none" />
<path d="M325.3 429.5 Q323 438 325.3 448.6 L335 452.5 L331.2 458.4 L339 462.3 L352 463 M325.3 448.6 Q330 446 336 444 L341 437" stroke="#222" stroke-width="0.8" fill="none" />
<path d="M309.8 444.7 L303.9 464.2 L300 481.7 L294.2 501.2 M307.8 481.7 L311.7 472 L321.4 462.3 L333.1 456.4" stroke="#222" stroke-width="0.8" fill="none" />
<path d="M300 481.7 Q303 484 307.8 481.7 M309.8 444.7 Q314 440 318 442" stroke="#222" stroke-width="0.7" fill="none" />
<path d="M295 448 Q290 470 296 500 Q300 508 310 510" stroke="#222" stroke-width="0.6" fill="none" />
<ellipse cx="316.6" cy="428.8" rx="3.5" ry="1.3" stroke="#222" stroke-width="0.7" fill="none"/>
<ellipse cx="312.7" cy="485.6" rx="1.5" ry="2.2" stroke="#222" stroke-width="0.7" fill="none"/>
<ellipse cx="342.8" cy="483.7" rx="1.8" ry="3.8" stroke="#222" stroke-width="0.7" fill="none"/>
<path d="M528.0 643.6 L525.1 643.5 L522.3 643.0 L519.5 642.3 L516.7 641.2 L514.0 639.9 L511.4 638.3 L508.9 636.4 L506.5 634.3 L504.3 632.0 L502.2 629.4 L500.2 626.6 L498.5 623.6 L496.9 620.4 L495.5 617.1 L494.3 613.6 L493.3 610.0 L492.5 606.3 L491.9 602.6 L491.6 598.8 L491.5 595.0 L491.6 591.2 L491.9 587.4 L492.5 583.7 L493.3 580.0 L494.3 576.4 L495.5 572.9 L496.9 569.6 L498.5 566.4 L500.2 563.4 L502.2 560.6 L504.3 558.0 L506.5 555.7 L508.9 553.6 L511.4 551.7 L514.0 550.1 L516.7 548.8 L519.5 547.7 L522.3 547.0 L525.1 546.5 L528.0 546.4 L536 543.7 M528 643.6 L536 640.9" stroke="#222" stroke-width="0.9" fill="none" />
<ellipse cx="536.0" cy="592.3" rx="36.5" ry="48.6" stroke="#222" stroke-width="0.9" fill="none"/>
<ellipse cx="536.5" cy="592.0" rx="33.0" ry="45.0" stroke="#222" stroke-width="0.6" fill="none"/>
<path d="M536.4 558.2 L548 559.2 L547.1 568.9 L542.5 570.5 L544.2 576.7 L552 580.6 L551 586.4 L546 588.3 L544.2 598.1 L538.4 605.9 L529.6 607.8 L526.7 603.9 L520.9 604.9 L519.9 598.1 L524.7 592.3 L523.8 580.6 L522.8 570.9 L528.6 563.1 Z" stroke="#222" stroke-width="0.8" fill="none" />
<path d="M505 585 Q502 595 506 610 Q510 613 513 605 L515 592 Q513 580 508 582 Z" stroke="#222" stroke-width="0.8" fill="none" />
<path d="M558 560 Q555 568 557 585 Q560 590 564 584 L567 566 Q566 555 561 556 Z" stroke="#222" stroke-width="0.8" fill="none" />
<ellipse cx="510.5" cy="598.0" rx="1.6" ry="2.2" stroke="#222" stroke-width="0.6" fill="none"/>
<ellipse cx="561.5" cy="571.0" rx="1.6" ry="2.2" stroke="#222" stroke-width="0.6" fill="none"/>
<ellipse cx="536.4" cy="613.7" rx="1.4" ry="2.0" stroke="#222" stroke-width="0.7" fill="none"/>
<ellipse cx="531.6" cy="549.5" rx="3.5" ry="1.2" stroke="#222" stroke-width="0.7" fill="none"/>
<path d="M583.5 651.6 L582.2 651.5 L580.8 651.3 L579.5 650.9 L578.2 650.3 L576.9 649.6 L575.7 648.7 L574.5 647.7 L573.4 646.5 L572.3 645.2 L571.3 643.8 L570.4 642.3 L569.6 640.6 L568.8 638.9 L568.2 637.1 L567.6 635.2 L567.1 633.2 L566.8 631.2 L566.5 629.2 L566.4 627.1 L566.3 625.0 L566.4 622.9 L566.5 620.8 L566.8 618.8 L567.1 616.8 L567.6 614.8 L568.2 612.9 L568.8 611.1 L569.6 609.4 L570.4 607.7 L571.3 606.2 L572.3 604.8 L573.4 603.5 L574.5 602.3 L575.7 601.3 L576.9 600.4 L578.2 599.7 L579.5 599.1 L580.8 598.7 L582.2 598.5 L583.5 598.4 L594.8 596 M583.5 651.6 L594.8 649.6" stroke="#222" stroke-width="0.9" fill="none" />
<ellipse cx="594.8" cy="622.8" rx="17.5" ry="26.8" stroke="#222" stroke-width="0.9" fill="none"/>
<ellipse cx="594.5" cy="623.5" rx="14.5" ry="22.5" stroke="#222" stroke-width="0.8" fill="none"/>
<ellipse cx="593.0" cy="625.3" rx="10.5" ry="15.5" stroke="#222" stroke-width="0.8" fill="none"/>
<ellipse cx="593.0" cy="625.3" rx="7.0" ry="10.5" stroke="#222" stroke-width="0.8" fill="none"/>
<ellipse cx="606.0" cy="624.5" rx="2.2" ry="3.0" stroke="#222" stroke-width="0.6" fill="none"/>
<ellipse cx="602.3" cy="637.9" rx="2.2" ry="3.0" stroke="#222" stroke-width="0.6" fill="none"/>
<ellipse cx="593.5" cy="643.5" rx="2.2" ry="3.0" stroke="#222" stroke-width="0.6" fill="none"/>
<ellipse cx="584.7" cy="637.9" rx="2.2" ry="3.0" stroke="#222" stroke-width="0.6" fill="none"/>
<ellipse cx="581.0" cy="624.5" rx="2.2" ry="3.0" stroke="#222" stroke-width="0.6" fill="none"/>
<ellipse cx="584.7" cy="611.1" rx="2.2" ry="3.0" stroke="#222" stroke-width="0.6" fill="none"/>
<ellipse cx="593.5" cy="605.5" rx="2.2" ry="3.0" stroke="#222" stroke-width="0.6" fill="none"/>
<ellipse cx="602.3" cy="611.1" rx="2.2" ry="3.0" stroke="#222" stroke-width="0.6" fill="none"/>
<path d="M433.3 412.2 Q422 414 416.7 421.7 Q413 428 414.4 434 Q416 442 422.2 445.5 Q428 449 434 448.5" stroke="#222" stroke-width="0.9" fill="none" />
<path d="M433.3 412.2 Q438 412.5 442 416.5" stroke="#222" stroke-width="0.8" fill="none" />
<ellipse cx="439.7" cy="433.3" rx="12.0" ry="16.1" stroke="#222" stroke-width="0.9" fill="none"/>
<ellipse cx="440.0" cy="434.4" rx="9.4" ry="12.8" stroke="#222" stroke-width="0.8" fill="none"/>
<path d="M420 420 Q418 432 423 442" stroke="#222" stroke-width="0.6" fill="none" />
<path d="M425.6 448.3 L423.3 490.6 M430 450.6 L429.4 491.7 M436.7 449.4 L443.3 492.8 Q445 496 446.7 497.2 M441.1 449.4 L442.8 482.8" stroke="#222" stroke-width="0.8" fill="none" />
<path d="M431 452 L431.7 489.4 Q434 492 438.9 487.2 L437 452" stroke="#222" stroke-width="0.7" fill="none" />
<path d="M424 460 L429.5 461 M424 471 L429.5 472 M424 481 L429.5 482 M437.5 462 L442 461 M438.5 474 L442.5 473" stroke="#222" stroke-width="0.5" fill="none" />
<path d="M353 490 L364.8 492.2 L365.8 502.9 L354 499.3" stroke="#222" stroke-width="0.9" fill="none" />
<ellipse cx="353.6" cy="494.6" rx="1.9" ry="4.5" stroke="#222" stroke-width="0.9" fill="none"/>
<line x1="355.5" y1="490.5" x2="355.5" y2="499.5" stroke="#222" stroke-width="0.6"/>
<line x1="357.2" y1="490.8" x2="357.2" y2="500.1" stroke="#222" stroke-width="0.6"/>
<line x1="358.9" y1="491.1" x2="358.9" y2="500.7" stroke="#222" stroke-width="0.6"/>
<line x1="360.6" y1="491.4" x2="360.6" y2="501.3" stroke="#222" stroke-width="0.6"/>
<line x1="362.3" y1="491.7" x2="362.3" y2="501.9" stroke="#222" stroke-width="0.6"/>
<line x1="364.0" y1="492.0" x2="364.0" y2="502.5" stroke="#222" stroke-width="0.6"/>
<path d="M365 492.3 L367.9 492.5 L401.3 504 M365.8 502.9 Q372 510 381.5 519.6 L403.3 532" stroke="#222" stroke-width="0.9" fill="none" />
<path d="M368 493 Q366 498 368 503.5 M381.5 519.6 Q384 512 381 499" stroke="#222" stroke-width="0.6" fill="none" />
<path d="M403.3 498.8 Q404 490 407.5 488.3 Q411 485 415.8 485.2 L428 487" stroke="#222" stroke-width="0.9" fill="none" />
<path d="M403.3 498.8 L404.4 532 L405.4 542.5 L386.7 550.8 Q382 555 383.5 559.2 Q384 563 386.7 565.4 L399.2 573.8" stroke="#222" stroke-width="0.9" fill="none" />
<path d="M408 490 Q406.5 510 407 540 M412 488 Q410 510 410.5 541" stroke="#222" stroke-width="0.7" fill="none" />
<path d="M386.7 550.8 L392 553 L405.4 546.5 M392 553 Q389 560 392 566 L405.4 574 M405.4 546.5 L407.5 561.3 L409.6 567.5" stroke="#222" stroke-width="0.7" fill="none" />
<path d="M407.5 561.3 L424.2 552.9 L430 556 M409.6 567.5 Q408 575 413.8 584.2" stroke="#222" stroke-width="0.7" fill="none" />
<path d="M405.4 563.3 L405.4 582 M392 566 L398 572" stroke="#222" stroke-width="0.6" fill="none" />
<path d="M430 556 Q428 566 432 572" stroke="#222" stroke-width="0.5" fill="none" />
<ellipse cx="446.5" cy="519.0" rx="17.8" ry="19.0" stroke="#222" stroke-width="0.9" fill="#fff"/>
<path d="M444.0 534.6 L442.7 534.3 L441.5 533.8 L440.4 533.3 L439.2 532.7 L438.2 531.9 L437.2 531.1 L436.2 530.2 L435.4 529.2 L434.6 528.1 L433.9 526.9 L433.4 525.7 L432.9 524.4 L432.5 523.1 L432.2 521.7 L432.1 520.4 L432.0 519.0 L432.1 517.6 L432.2 516.3 L432.5 514.9 L432.9 513.6 L433.4 512.3 L433.9 511.1 L434.6 509.9 L435.4 508.8 L436.2 507.8 L437.2 506.9 L438.2 506.1 L439.2 505.3 L440.4 504.7 L441.5 504.2 L442.7 503.7 L444.0 503.4 L445.2 503.3 L446.5 503.2 L447.8 503.3 L449.0 503.4 L450.3 503.7 L451.5 504.2 L452.6 504.7 L453.8 505.3" stroke="#222" stroke-width="0.8" fill="none" />
<path d="M458.5 519.5 L458.4 521.5 L457.9 523.4 L457.2 525.2 L456.3 526.8 L455.1 528.3 L453.8 529.6 L452.2 530.6 L450.6 531.4 L448.8 531.8 L447.0 532.0 L445.2 531.8 L443.4 531.4 L441.8 530.6 L440.2 529.6 L438.9 528.3 L437.7 526.8 L436.8 525.2 L436.1 523.4 L435.6 521.5 L435.5 519.5 L435.6 517.5 L436.1 515.6 L436.8 513.8 L437.7 512.2 L438.9 510.7 L440.2 509.4 L441.8 508.4 L443.4 507.6 L445.2 507.2 L447.0 507.0 L448.8 507.2 L450.6 507.6 L452.2 508.4 L453.8 509.4 L455.1 510.7 L456.3 512.2 L457.2 513.8 L457.9 515.6 L458.4 517.5 L458.5 519.5" stroke="#222" stroke-width="0.8" fill="none" />
<path d="M456.0 520.0 L455.9 521.5 L455.6 522.9 L455.1 524.3 L454.4 525.6 L453.5 526.7 L452.5 527.7 L451.4 528.5 L450.1 529.0 L448.8 529.4 L447.5 529.5 L446.2 529.4 L444.9 529.0 L443.6 528.5 L442.5 527.7 L441.5 526.7 L440.6 525.6 L439.9 524.3 L439.4 522.9 L439.1 521.5 L439.0 520.0 L439.1 518.5 L439.4 517.1 L439.9 515.7 L440.6 514.4 L441.5 513.3 L442.5 512.3 L443.6 511.5 L444.9 511.0 L446.2 510.6 L447.5 510.5 L448.8 510.6 L450.1 511.0 L451.4 511.5 L452.5 512.3 L453.5 513.3 L454.4 514.4 L455.1 515.7 L455.6 517.1 L455.9 518.5 L456.0 520.0" stroke="#222" stroke-width="0.7" fill="none" />
<ellipse cx="448.3" cy="520.6" rx="5.0" ry="5.6" stroke="#222" stroke-width="0.9" fill="none"/>
<ellipse cx="448.5" cy="520.6" rx="3.0" ry="3.5" stroke="#222" stroke-width="0.6" fill="none"/>
<path d="M428 502 Q425 519 430 534 M431.5 500 Q428.5 519 433.5 535" stroke="#222" stroke-width="0.9" fill="none" />
<path d="M421 500 Q417 520 422 540 Q428 552 440 556 L471 572" stroke="#222" stroke-width="0.8" fill="none" />
<path d="M437 500 L444 497 L452 499 M441 502 L451 503" stroke="#222" stroke-width="0.6" fill="none" />
<path d="M412.8 490 Q405 495 403.9 507.8 Q403 516 406.1 522.2 M416 491 Q409 500 410 515 Q411 520 412 524 M420 494 Q414 503 415 518 L416 526" stroke="#222" stroke-width="0.8" fill="none" />
<path d="M416.5 505 L421 503 M417 512 L421 511" stroke="#222" stroke-width="0.5" fill="none" />
<path d="M446.0 534.5 L446.5 534.5 L447.0 534.7 L447.5 534.9 L448.0 535.2 L448.5 535.6 L449.0 536.1 L449.4 536.6 L449.8 537.3 L450.2 538.0 L450.6 538.7 L450.9 539.6 L451.3 540.5 L451.5 541.4 L451.8 542.4 L452.0 543.5 L452.2 544.5 L452.3 545.6 L452.4 546.7 L452.5 547.9 L452.5 549.0 L452.5 550.1 L452.4 551.3 L452.3 552.4 L452.2 553.5 L452.0 554.5 L451.8 555.6 L451.5 556.6 L451.3 557.5 L450.9 558.4 L450.6 559.3 L450.2 560.0 L449.8 560.7 L449.4 561.4 L449.0 561.9 L448.5 562.4 L448.0 562.8 L447.5 563.1 L447.0 563.3 L446.5 563.5 L446.0 563.5" stroke="#222" stroke-width="0.9" fill="none" />
<path d="M444.0 534.5 L444.5 534.5 L445.0 534.7 L445.5 534.9 L446.0 535.2 L446.5 535.6 L447.0 536.1 L447.4 536.6 L447.8 537.3 L448.2 538.0 L448.6 538.7 L448.9 539.6 L449.3 540.5 L449.5 541.4 L449.8 542.4 L450.0 543.5 L450.2 544.5 L450.3 545.6 L450.4 546.7 L450.5 547.9 L450.5 549.0 L450.5 550.1 L450.4 551.3 L450.3 552.4 L450.2 553.5 L450.0 554.5 L449.8 555.6 L449.5 556.6 L449.3 557.5 L448.9 558.4 L448.6 559.3 L448.2 560.0 L447.8 560.7 L447.4 561.4 L447.0 561.9 L446.5 562.4 L446.0 562.8 L445.5 563.1 L445.0 563.3 L444.5 563.5 L444.0 563.5" stroke="#222" stroke-width="0.7" fill="none" />
<path d="M448.9 534.4 L481 551.5 M448.9 563.3 L475.6 570" stroke="#222" stroke-width="0.9" fill="none" />
<ellipse cx="479.0" cy="561.0" rx="4.5" ry="9.5" stroke="#222" stroke-width="0.9" fill="#fff" transform="rotate(-10 479 561)"/>
<path d="M476.0 551.5 L476.4 551.5 L476.7 551.6 L477.1 551.8 L477.4 552.0 L477.7 552.2 L478.0 552.5 L478.4 552.9 L478.6 553.3 L478.9 553.8 L479.2 554.3 L479.4 554.8 L479.6 555.4 L479.8 556.0 L480.0 556.7 L480.2 557.4 L480.3 558.1 L480.4 558.8 L480.4 559.5 L480.5 560.3 L480.5 561.0 L480.5 561.7 L480.4 562.5 L480.4 563.2 L480.3 563.9 L480.2 564.6 L480.0 565.3 L479.8 566.0 L479.6 566.6 L479.4 567.2 L479.2 567.7 L478.9 568.2 L478.6 568.7 L478.4 569.1 L478.0 569.5 L477.7 569.8 L477.4 570.0 L477.1 570.2 L476.7 570.4 L476.4 570.5 L476.0 570.5" stroke="#222" stroke-width="0.6" fill="none" />
<path d="M462 532 L466 530 L480 537 L482 543 L481 551 M466 530 L467 536 L481 543" stroke="#222" stroke-width="0.8" fill="none" />
<path d="M480 556.5 L490 560.5 M477.5 567 L487.5 571" stroke="#222" stroke-width="0.9" fill="none" />
<ellipse cx="489.5" cy="565.8" rx="2.8" ry="5.0" stroke="#222" stroke-width="0.9" fill="#fff"/>
<line x1="480.5" y1="556.8" x2="479.0" y2="567.5" stroke="#666" stroke-width="0.6"/>
<line x1="482.1" y1="557.5" x2="480.6" y2="568.1" stroke="#666" stroke-width="0.6"/>
<line x1="483.7" y1="558.2" x2="482.2" y2="568.7" stroke="#666" stroke-width="0.6"/>
<line x1="485.3" y1="558.9" x2="483.8" y2="569.3" stroke="#666" stroke-width="0.6"/>
<line x1="486.9" y1="559.6" x2="485.4" y2="569.9" stroke="#666" stroke-width="0.6"/>
<line x1="488.5" y1="560.3" x2="487.0" y2="570.5" stroke="#666" stroke-width="0.6"/>
<path d="M384.4 556.7 Q384 563 386.7 567.8 L400 576.7 L406.7 574.4" stroke="#222" stroke-width="0.8" fill="none" />
<path d="M404.4 574.4 L408.9 585.6 Q415 590 424.4 592.2 L444.4 593.3 Q455 591 462.2 585.6 Q468 580 471.1 572.2" stroke="#222" stroke-width="0.9" fill="none" />
<path d="M395 560 L404 567 L404.4 574.4 M412 570 L420 573 Q440 578 460 570 L468 562" stroke="#222" stroke-width="0.7" fill="none" />
<g transform="translate(137.5 626.0) rotate(27.7)"><path d="M0 -8.3 L4 -8.3 Q7.5 -8.3 7.5 0 Q7.5 8.3 4 8.3 L0 8.3" stroke="#222" stroke-width="0.9" fill="#fff"/><ellipse cx="0" cy="0" rx="3.2" ry="8.3" stroke="#222" stroke-width="0.9" fill="#fff"/><path d="M4 -8.3 Q6.5 -8 6.5 0 Q6.5 8 4 8.3" stroke="#555" stroke-width="0.6" fill="none"/><path d="M7.3 -4 L45.3 -4 Q48.3 -4 48.3 0 Q48.3 4 45.3 4 L7.3 4" stroke="#222" stroke-width="0.9" fill="none"/><path d="M8.5 -3.6 L9.3 3.6 M9.9 -3.6 L10.8 3.6 M11.4 -3.6 L12.2 3.6 M12.8 -3.6 L13.6 3.6 M14.3 -3.6 L15.1 3.6 M15.7 -3.6 L16.5 3.6 M17.2 -3.6 L18.0 3.6 M18.6 -3.6 L19.4 3.6 M20.1 -3.6 L20.9 3.6 M21.5 -3.6 L22.3 3.6 M23.0 -3.6 L23.8 3.6 M24.4 -3.6 L25.2 3.6 M25.9 -3.6 L26.7 3.6 M27.3 -3.6 L28.1 3.6 M28.8 -3.6 L29.6 3.6 M30.2 -3.6 L31.0 3.6 M31.7 -3.6 L32.5 3.6 M33.1 -3.6 L33.9 3.6 M34.6 -3.6 L35.4 3.6 M36.0 -3.6 L36.8 3.6 M37.5 -3.6 L38.3 3.6 M39.0 -3.6 L39.8 3.6 M40.4 -3.6 L41.2 3.6 M41.9 -3.6 L42.7 3.6 M43.3 -3.6 L44.1 3.6 M44.8 -3.6 L45.6 3.6 " stroke="#888" stroke-width="0.7" fill="none"/></g>
<g transform="translate(44.0 680.5) rotate(28.9)"><path d="M0 -8.3 L4 -8.3 Q7.5 -8.3 7.5 0 Q7.5 8.3 4 8.3 L0 8.3" stroke="#222" stroke-width="0.9" fill="#fff"/><ellipse cx="0" cy="0" rx="3.2" ry="8.3" stroke="#222" stroke-width="0.9" fill="#fff"/><path d="M4 -8.3 Q6.5 -8 6.5 0 Q6.5 8 4 8.3" stroke="#555" stroke-width="0.6" fill="none"/><path d="M7.3 -4 L42.4 -4 Q45.4 -4 45.4 0 Q45.4 4 42.4 4 L7.3 4" stroke="#222" stroke-width="0.9" fill="none"/><path d="M8.5 -3.6 L9.3 3.6 M9.9 -3.6 L10.8 3.6 M11.4 -3.6 L12.2 3.6 M12.8 -3.6 L13.6 3.6 M14.3 -3.6 L15.1 3.6 M15.7 -3.6 L16.5 3.6 M17.2 -3.6 L18.0 3.6 M18.6 -3.6 L19.4 3.6 M20.1 -3.6 L20.9 3.6 M21.5 -3.6 L22.3 3.6 M23.0 -3.6 L23.8 3.6 M24.4 -3.6 L25.2 3.6 M25.9 -3.6 L26.7 3.6 M27.3 -3.6 L28.1 3.6 M28.8 -3.6 L29.6 3.6 M30.2 -3.6 L31.0 3.6 M31.7 -3.6 L32.5 3.6 M33.1 -3.6 L33.9 3.6 M34.6 -3.6 L35.4 3.6 M36.0 -3.6 L36.8 3.6 M37.5 -3.6 L38.3 3.6 M39.0 -3.6 L39.8 3.6 M40.4 -3.6 L41.2 3.6 M41.9 -3.6 L42.7 3.6 " stroke="#888" stroke-width="0.7" fill="none"/></g>
<g transform="translate(95.0 692.5) rotate(29.6)"><path d="M0 -8.3 L4 -8.3 Q7.5 -8.3 7.5 0 Q7.5 8.3 4 8.3 L0 8.3" stroke="#222" stroke-width="0.9" fill="#fff"/><ellipse cx="0" cy="0" rx="3.2" ry="8.3" stroke="#222" stroke-width="0.9" fill="#fff"/><path d="M4 -8.3 Q6.5 -8 6.5 0 Q6.5 8 4 8.3" stroke="#555" stroke-width="0.6" fill="none"/><path d="M7.3 -4 L41.5 -4 Q44.5 -4 44.5 0 Q44.5 4 41.5 4 L7.3 4" stroke="#222" stroke-width="0.9" fill="none"/><path d="M8.5 -3.6 L9.3 3.6 M9.9 -3.6 L10.8 3.6 M11.4 -3.6 L12.2 3.6 M12.8 -3.6 L13.6 3.6 M14.3 -3.6 L15.1 3.6 M15.7 -3.6 L16.5 3.6 M17.2 -3.6 L18.0 3.6 M18.6 -3.6 L19.4 3.6 M20.1 -3.6 L20.9 3.6 M21.5 -3.6 L22.3 3.6 M23.0 -3.6 L23.8 3.6 M24.4 -3.6 L25.2 3.6 M25.9 -3.6 L26.7 3.6 M27.3 -3.6 L28.1 3.6 M28.8 -3.6 L29.6 3.6 M30.2 -3.6 L31.0 3.6 M31.7 -3.6 L32.5 3.6 M33.1 -3.6 L33.9 3.6 M34.6 -3.6 L35.4 3.6 M36.0 -3.6 L36.8 3.6 M37.5 -3.6 L38.3 3.6 M39.0 -3.6 L39.8 3.6 M40.4 -3.6 L41.2 3.6 " stroke="#888" stroke-width="0.7" fill="none"/></g>
<g transform="translate(47.5 729.0) rotate(29.6)"><path d="M0 -8.3 L4 -8.3 Q7.5 -8.3 7.5 0 Q7.5 8.3 4 8.3 L0 8.3" stroke="#222" stroke-width="0.9" fill="#fff"/><ellipse cx="0" cy="0" rx="3.2" ry="8.3" stroke="#222" stroke-width="0.9" fill="#fff"/><path d="M4 -8.3 Q6.5 -8 6.5 0 Q6.5 8 4 8.3" stroke="#555" stroke-width="0.6" fill="none"/><path d="M7.3 -4 L41.5 -4 Q44.5 -4 44.5 0 Q44.5 4 41.5 4 L7.3 4" stroke="#222" stroke-width="0.9" fill="none"/><path d="M8.5 -3.6 L9.3 3.6 M9.9 -3.6 L10.8 3.6 M11.4 -3.6 L12.2 3.6 M12.8 -3.6 L13.6 3.6 M14.3 -3.6 L15.1 3.6 M15.7 -3.6 L16.5 3.6 M17.2 -3.6 L18.0 3.6 M18.6 -3.6 L19.4 3.6 M20.1 -3.6 L20.9 3.6 M21.5 -3.6 L22.3 3.6 M23.0 -3.6 L23.8 3.6 M24.4 -3.6 L25.2 3.6 M25.9 -3.6 L26.7 3.6 M27.3 -3.6 L28.1 3.6 M28.8 -3.6 L29.6 3.6 M30.2 -3.6 L31.0 3.6 M31.7 -3.6 L32.5 3.6 M33.1 -3.6 L33.9 3.6 M34.6 -3.6 L35.4 3.6 M36.0 -3.6 L36.8 3.6 M37.5 -3.6 L38.3 3.6 M39.0 -3.6 L39.8 3.6 M40.4 -3.6 L41.2 3.6 " stroke="#888" stroke-width="0.7" fill="none"/></g>
<line x1="180.0" y1="648.5" x2="252.0" y2="688.0" stroke="#777" stroke-width="0.8"/>
<line x1="84.0" y1="703.0" x2="180.0" y2="753.0" stroke="#777" stroke-width="0.8"/>
<line x1="134.0" y1="714.5" x2="142.0" y2="719.0" stroke="#777" stroke-width="0.8"/>
<line x1="86.0" y1="751.5" x2="96.0" y2="757.0" stroke="#777" stroke-width="0.8"/>
<line x1="130.0" y1="696.7" x2="139.0" y2="701.1" stroke="#777" stroke-width="0.8"/>
<path d="M150 693.5 Q140 697 139 710 Q139.5 724 149 729.5 Q154 731.5 158 730" stroke="#222" stroke-width="0.9" fill="none" />
<ellipse cx="158.8" cy="711.5" rx="12.3" ry="18.3" stroke="#222" stroke-width="0.9" fill="none"/>
<ellipse cx="158.3" cy="712.0" rx="9.5" ry="14.5" stroke="#222" stroke-width="0.8" fill="none"/>
<ellipse cx="156.0" cy="712.5" rx="7.8" ry="11.1" stroke="#222" stroke-width="0.8" fill="none"/>
<ellipse cx="156.5" cy="712.5" rx="5.3" ry="8.0" stroke="#222" stroke-width="0.7" fill="none"/>
<path d="M103.3 743.3 L108.3 740 L130 748.3 L170 735 L176.7 736.7 L175.8 740.8 L131.7 757.5 L105 748.3 Z" stroke="#222" stroke-width="0.9" fill="none" />
<path d="M105 748.3 V752 L131.7 761.5 L175.8 744.5 V740.8 M131.7 757.5 V761.5" stroke="#222" stroke-width="0.8" fill="none" />
<path d="M91.7 755 Q84 760 85 768.3 Q86 779 90 785 Q95 790 101.7 791.7" stroke="#222" stroke-width="0.9" fill="none" />
<path d="M91.7 755 Q97 751 104 750 M98.3 761.7 L115 763.3 L115 786 L103 787 Q96 784 96 772 Q96 765 98.3 761.7 Z" stroke="#222" stroke-width="0.8" fill="none" />
<ellipse cx="105.8" cy="774.2" rx="3.0" ry="4.5" stroke="#222" stroke-width="0.9" fill="#888"/>
<path d="M101.7 791.7 L104 797 L112 796 L112 789" stroke="#222" stroke-width="0.7" fill="none" />
<path d="M101.7 791.7 Q104 802 108.3 810 Q114 819 121.7 826.7 Q131 834 143.3 840 Q152 844 163.3 846.7 Q178 849.5 193.3 850 L200 852" stroke="#222" stroke-width="0.9" fill="none" />
<path d="M126.7 758.3 Q124.5 780 125.8 796.7 Q127 808 130 816.7 Q133.5 826 138.3 833.3 Q143 840 150 846.7" stroke="#222" stroke-width="0.9" fill="none" />
<path d="M129.5 759 Q127.5 780 128.8 796.7 Q130 808 133 816.7" stroke="#222" stroke-width="0.6" fill="none" />
<path d="M128.3 775 L190 770 L190.5 772.5 L130 777.5 M128.3 775 L173.3 755 L176 757 L130 777.5" stroke="#222" stroke-width="0.8" fill="none" />
<path d="M103.3 786.7 L193.3 780 L193.5 782.8 L104 789.5" stroke="#222" stroke-width="0.8" fill="none" />
<path d="M150 828.3 L168.3 801.7 L170.5 803 L153 829.5 M150 828.3 L196.7 815 L197 817.8 L153 829.5" stroke="#222" stroke-width="0.8" fill="none" />
<path d="M166.7 783.3 Q168 795 173.3 798.3 Q180 802.5 196.7 796.7" stroke="#222" stroke-width="0.8" fill="none" />
<path d="M168 787 L172 786 L174 800" stroke="#222" stroke-width="0.6" fill="none" />
<ellipse cx="182.0" cy="828.5" rx="7.0" ry="4.0" stroke="#222" stroke-width="0.7" fill="none"/>
<path d="M187.0 829.5 L187.0 829.7 L186.9 829.9 L186.9 830.1 L186.8 830.3 L186.6 830.5 L186.5 830.6 L186.3 830.8 L186.0 831.0 L185.8 831.1 L185.5 831.3 L185.2 831.4 L184.9 831.5 L184.6 831.6 L184.3 831.7 L183.9 831.8 L183.5 831.9 L183.2 831.9 L182.8 832.0 L182.4 832.0 L182.0 832.0 L181.6 832.0 L181.2 832.0 L180.8 831.9 L180.5 831.9 L180.1 831.8 L179.7 831.7 L179.4 831.6 L179.1 831.5 L178.8 831.4 L178.5 831.3 L178.2 831.1 L178.0 831.0 L177.7 830.8 L177.5 830.6 L177.4 830.5 L177.2 830.3 L177.1 830.1 L177.1 829.9 L177.0 829.7 L177.0 829.5" stroke="#222" stroke-width="0.6" fill="none" />
<ellipse cx="186.7" cy="748.3" rx="3.3" ry="4.3" stroke="#222" stroke-width="0.9" fill="#999"/>
<path d="M155 759 L161 756 L164 759 L158 762 Z" stroke="#222" stroke-width="0.6" fill="none" />
<path d="M165 727.5 L243.3 683.7 L255 675.8 L261.7 672.5 L255.8 669.2 L245 661.7 L270 646.7 L285 655" stroke="#222" stroke-width="0.9" fill="none" />
<path d="M173.3 732.5 L223.3 748.3 L223.3 752 M165 727.5 L165 731 L173.3 735.8" stroke="#222" stroke-width="0.8" fill="none" />
<path d="M258.3 652.5 L271.7 646.7 L286.7 655 L288.3 668.3 L281.7 665.8 M271.7 646.7 L272 661 M286.7 655 L272 661" stroke="#222" stroke-width="0.8" fill="none" />
<path d="M245 661.7 L248 668 L255.8 669.2 M250 665 L252 675" stroke="#222" stroke-width="0.7" fill="none" />
<path d="M255 655 L318.3 688.3 L319.2 698.3" stroke="#222" stroke-width="0.9" fill="none" />
<ellipse cx="196.7" cy="720.8" rx="3.5" ry="2.2" stroke="#222" stroke-width="0.8" fill="#aaa"/>
<ellipse cx="261.7" cy="693.0" rx="3.5" ry="2.2" stroke="#222" stroke-width="0.8" fill="#aaa"/>
<path d="M280 686.7 L293.3 680 L320 693.3 L320 699 L316.7 700.5" stroke="#222" stroke-width="0.9" fill="none" />
<path d="M280 686.7 L280 692 L290 697 L290 725 L284 728 L287 733 L291 735" stroke="#222" stroke-width="0.8" fill="none" />
<path d="M300 693 Q300.5 745 293.3 786.7 M311.7 690 Q311.5 745 306.7 786.7 M316.7 696.7 Q317 745 313.3 780 M306 692 Q306 745 300 787" stroke="#222" stroke-width="0.8" fill="none" />
<path d="M293.3 786.7 L300 787 M306.7 786.7 L313.3 780" stroke="#222" stroke-width="0.7" fill="none" />
<path d="M319.2 698.3 L333.3 706.7 Q336 713 335 720 Q332 730 328.3 738.3 Q322 755 310 773.3 Q303 785 298 792" stroke="#222" stroke-width="0.9" fill="none" />
<path d="M321.7 733.3 L361.7 758.3 L363.3 763.3 L351.7 766.7 L318.3 748.3" stroke="#222" stroke-width="0.9" fill="none" />
<path d="M326 738 L358 759.5" stroke="#222" stroke-width="0.6" fill="none" />
<ellipse cx="318.3" cy="728.3" rx="3.0" ry="4.0" stroke="#222" stroke-width="0.9" fill="none"/>
<path d="M219.8 732.0 L222.7 725.8 L226.2 720.1 L230.2 715.1 L234.5 710.8 L239.3 707.3 L244.2 704.7 L249.4 702.9 L254.7 702.1 L260.1 702.2 L265.4 703.2 L270.6 705.1 L275.5 707.8 L280.2 711.5 L284.5 715.9 L288.4 721.0 L291.8 726.7 L294.7 733.0 L296.9 739.8 L298.6 746.9 L299.6 754.2 L300.0 761.6 L299.7 769.1 L298.7 776.4 L297.1 783.5 L294.9 790.3 L292.1 796.6 L288.8 802.4 L284.9 807.6 L280.7 812.1 L276.0 815.8 L271.1 818.7 L265.9 820.7 L260.7 821.8 L255.3 822.0 L250.0 821.2 L244.8 819.5 L239.8 817.0 L235.0 813.6 L230.6 809.4 L226.6 804.4" stroke="#222" stroke-width="0.9" fill="none" />
<path d="M230.9 729.1 L233.8 724.6 L237.1 720.7 L240.6 717.4 L244.4 714.6 L248.4 712.6 L252.6 711.2 L256.8 710.6 L261.0 710.6 L265.2 711.4 L269.3 712.9 L273.3 715.1 L277.0 717.9 L280.5 721.4 L283.7 725.4 L286.6 730.0 L289.0 734.9 L291.1 740.3 L292.6 746.0 L293.7 751.9 L294.4 758.0 L294.5 764.1 L294.1 770.2 L293.2 776.2 L291.9 782.0 L290.1 787.5 L287.8 792.7 L285.1 797.5 L282.1 801.7 L278.8 805.5 L275.1 808.6 L271.3 811.1 L267.2 813.0 L263.0 814.1 L258.8 814.5 L254.6 814.2 L250.4 813.2 L246.3 811.4 L242.4 809.0 L238.8 806.0 L235.4 802.3" stroke="#222" stroke-width="0.8" fill="none" />
<path d="M239.1 727.8 L241.8 724.8 L244.7 722.2 L247.8 720.1 L251.0 718.6 L254.3 717.5 L257.6 717.0 L261.0 717.1 L264.4 717.7 L267.7 718.8 L270.9 720.5 L273.9 722.7 L276.8 725.3 L279.4 728.4 L281.9 731.9 L284.0 735.8 L285.8 740.0 L287.4 744.5 L288.6 749.2 L289.4 754.0 L289.9 759.0 L290.0 764.0 L289.7 769.0 L289.1 773.9 L288.1 778.7 L286.8 783.3 L285.1 787.7 L283.2 791.8 L280.9 795.5 L278.4 798.9 L275.7 801.8 L272.7 804.3 L269.6 806.2 L266.4 807.7 L263.0 808.6 L259.7 809.0 L256.3 808.8 L253.0 808.1 L249.7 806.9 L246.5 805.1 L243.5 802.8" stroke="#222" stroke-width="0.6" fill="none" />
<path d="M215 733.3 Q222 712 240 704 Q258 698 285 701.7" stroke="#222" stroke-width="0.6" fill="none" />
<ellipse cx="238.0" cy="758.0" rx="15.0" ry="24.0" stroke="#222" stroke-width="0.9" fill="none"/>
<ellipse cx="240.0" cy="759.0" rx="12.0" ry="19.5" stroke="#222" stroke-width="0.8" fill="none"/>
<ellipse cx="242.0" cy="760.0" rx="9.0" ry="15.0" stroke="#222" stroke-width="0.7" fill="none"/>
<ellipse cx="243.5" cy="760.5" rx="6.0" ry="10.0" stroke="#222" stroke-width="0.6" fill="none"/>
<path d="M262 790 Q270 800 282 802 M265 730 L280 738 L284 745" stroke="#222" stroke-width="0.6" fill="none" />
<path d="M226.7 755 Q219 768 218.3 783.3 Q217 795 218.3 798.3 Q220 808 223.3 815 Q225 820 225 823.3" stroke="#222" stroke-width="0.9" fill="none" />
<path d="M235 825 Q255 824 270 818 Q285 812 291.7 805 Q296 800 296.7 796.7" stroke="#222" stroke-width="0.9" fill="none" />
<path d="M246 816 Q265 812 282 800 Q292 790 294 780" stroke="#222" stroke-width="0.6" fill="none" />
<path d="M232 776 Q248 800 278 798" stroke="#222" stroke-width="0.5" fill="none" />
<path d="M196.7 760 Q205 757 215 758 Q224 761 228.3 766 Q230 775 226 783 Q220 789 210 788.3 Q200 787 197 780 Q194 770 196.7 760 Z" stroke="#222" stroke-width="0.9" fill="none" />
<ellipse cx="214.2" cy="776.7" rx="5.8" ry="7.0" stroke="#222" stroke-width="0.9" fill="none"/>
<ellipse cx="214.8" cy="777.0" rx="3.8" ry="5.0" stroke="#222" stroke-width="0.7" fill="none"/>
<path d="M196.7 760 L190 762 M197 780 L190 783" stroke="#222" stroke-width="0.7" fill="none" />
<ellipse cx="224.2" cy="830.0" rx="3.8" ry="4.8" stroke="#222" stroke-width="0.9" fill="none"/>
<ellipse cx="291.7" cy="805.0" rx="4.0" ry="5.0" stroke="#222" stroke-width="0.9" fill="none"/>
<path d="M218 826 Q214 832 218 838 Q224 842 230 837" stroke="#222" stroke-width="0.8" fill="none" />
<path d="M240 823.3 L268.3 818.3 L268.3 830 L243.3 838.3 Z M245 828 L265 823 M246 832 L265 827 M243.3 838.3 L240 835 V823.3" stroke="#222" stroke-width="0.8" fill="none" />
<path d="M193.3 815 V848 M195 848 L210 852 L225 846 L240 842" stroke="#222" stroke-width="0.8" fill="none" />
<path d="M200 852 L206 856 L215 854" stroke="#222" stroke-width="0.7" fill="none" />
<path d="M294 822.5 L304 826.5 M291 830 L301 834" stroke="#222" stroke-width="0.8" fill="none" />
<ellipse cx="302.5" cy="830.0" rx="3.2" ry="4.0" stroke="#222" stroke-width="0.8" fill="none"/>
<path d="M292.5 830.3 L292.2 830.3 L292.0 830.3 L291.8 830.2 L291.5 830.1 L291.3 830.0 L291.0 829.9 L290.8 829.7 L290.6 829.5 L290.4 829.3 L290.2 829.1 L290.1 828.9 L289.9 828.7 L289.8 828.4 L289.6 828.1 L289.5 827.8 L289.5 827.5 L289.4 827.2 L289.3 826.9 L289.3 826.6 L289.3 826.3 L289.3 826.0 L289.3 825.7 L289.4 825.4 L289.5 825.1 L289.5 824.8 L289.6 824.5 L289.8 824.2 L289.9 823.9 L290.1 823.7 L290.2 823.5 L290.4 823.3 L290.6 823.1 L290.8 822.9 L291.0 822.7 L291.3 822.6 L291.5 822.5 L291.8 822.4 L292.0 822.3 L292.2 822.3 L292.5 822.3" stroke="#222" stroke-width="0.8" fill="none" />
<path d="M333.3 798.9 L435.6 742.2 L436.7 784.4 Q441.5 786 441.1 791.1 Q441 797 437.8 798.9 L434.4 801.1 L432.2 818.9 L425.6 841.1 L418.9 856.7 L414.4 863.3 Q413.5 866 414 868 Q415 874 412.2 876.7 Q409 879.5 405.6 878.9 L383.3 885.6 L354.4 894.4 L345.6 898.9 Q341 902 337 901.5 L334.4 902.2 Q331 899 332.2 894.4 L332.2 876.7 L327.8 856.7 L323.3 845.6 Q322 841 325.6 836.7 L327.8 818.9 L325.6 817.8 L326.5 813 L333.3 812.2 Z" stroke="#222" stroke-width="0.9" fill="none" />
<path d="M343.3 805.6 L405.6 770 L405.6 782.2 L402 784 L403.3 788.9 Q409 797 410 803.3 Q414 812 413.3 818.9 Q413 826 411.1 832.2 L405.6 841.1 L405.6 845.6 L421.1 838.9 L419 844 Q416 850 412.2 854.4 Q404 864 394.4 872.2 Q386 879 376.7 883.3 Q365 887 354.4 885.6 Q345 883 341.1 876.7 Q337 866 336.7 854.4 Q336 842 337.8 832.2 Q340 825 343.3 821.1 L346 816 L343.3 814.4 Z" stroke="#222" stroke-width="0.8" fill="none" />
<path d="M418.9 761.1 L430 755 L430 783 L418.9 789 Z" stroke="#222" stroke-width="0.8" fill="none" />
<path d="M421 763 L428 759 L428 781 L421 785" stroke="#222" stroke-width="0.5" fill="none" />
<ellipse cx="437.5" cy="792.0" rx="2.8" ry="3.5" stroke="#222" stroke-width="0.8" fill="none"/>
<ellipse cx="330.0" cy="842.2" rx="3.0" ry="4.0" stroke="#222" stroke-width="0.8" fill="none"/>
<ellipse cx="408.9" cy="871.1" rx="3.0" ry="4.0" stroke="#222" stroke-width="0.8" fill="none"/>
<ellipse cx="340.0" cy="895.6" rx="2.8" ry="3.5" stroke="#222" stroke-width="0.8" fill="none"/>
<path d="M368 847 L383 854.5 M366 857 L380 863" stroke="#222" stroke-width="0.9" fill="none" />
<ellipse cx="382.0" cy="859.0" rx="4.0" ry="5.8" stroke="#222" stroke-width="0.9" fill="none"/>
<ellipse cx="382.0" cy="859.0" rx="2.5" ry="4.0" stroke="#222" stroke-width="0.6" fill="none"/>
<path d="M367.0 857.8 L366.7 857.8 L366.4 857.7 L366.1 857.6 L365.8 857.5 L365.5 857.4 L365.2 857.2 L364.9 856.9 L364.6 856.7 L364.4 856.4 L364.2 856.1 L364.0 855.8 L363.8 855.4 L363.6 855.0 L363.4 854.6 L363.3 854.2 L363.2 853.8 L363.1 853.4 L363.0 852.9 L363.0 852.5 L363.0 852.0 L363.0 851.5 L363.0 851.1 L363.1 850.6 L363.2 850.2 L363.3 849.8 L363.4 849.4 L363.6 849.0 L363.8 848.6 L364.0 848.2 L364.2 847.9 L364.4 847.6 L364.6 847.3 L364.9 847.1 L365.2 846.8 L365.5 846.6 L365.8 846.5 L366.1 846.4 L366.4 846.3 L366.7 846.2 L367.0 846.2" stroke="#222" stroke-width="0.9" fill="none" />
<path d="M472 791 L522.3 812 L522.3 816 L513 823.5 L467.2 798 L467.2 794.5 Z M467.2 794.5 L513 820 L522.3 812 M513 820 V823.5" stroke="#222" stroke-width="0.8" fill="none" />
<path d="M472 791.5 L472 784 Q474 781 478 782 L481.7 785 L481.7 795.5 M476 783 L476 793.5" stroke="#222" stroke-width="0.8" fill="none" />
<path d="M510.5 812 L510.5 805.5 Q513 803 516 804.5 L519 807 L519 814.5 M514 805 L514 815" stroke="#222" stroke-width="0.8" fill="none" />
<path d="M478 796 Q480 794 484 795 L495 800 Q497 803 494 804 L482 799 Q478 798 478 796 Z" stroke="#222" stroke-width="0.9" fill="none" />
<path d="M493 803 Q495 801 499 802 L507 806 Q509 809 506 811 L497 807 Q493 806 493 803 Z" stroke="#222" stroke-width="0.9" fill="none" />
<path d="M485.3 812 L486.5 866 Q485 876 478 881 L475.6 885 L478 889 L486 885 Q492 876 492 865 L493.7 814" stroke="#222" stroke-width="0.8" fill="none" />
<path d="M489 813 L489.5 866" stroke="#222" stroke-width="0.6" fill="none" />
<path d="M499.7 816.5 L501 866 Q499 882 488 895 L484 893 M504.5 818 L505 866 Q503 885 491 897" stroke="#222" stroke-width="0.8" fill="none" />
<path d="M477.2 902.9 L492.5 895.3 Q505 903 523 902.9 Q535 902.5 544.4 899.8 Q553 896 558 890 L565 883.3 Q571 877 570 870 L568.3 851.7 L575 855 L575 870 L580.6 868 L580.6 844 L587 841.3 L648.3 875.6 L649 880 L526.1 946.4 L511 930 L514 926 L510.8 924.3 L477.2 906 Z" stroke="#222" stroke-width="0.9" fill="none" />
<path d="M553.3 871.7 L556.7 856.7 L568.3 851.7 M553.3 871.7 Q553 880 558 890 M556 874 Q560 866 566 866" stroke="#222" stroke-width="0.8" fill="none" />
<path d="M477.2 906 L477.2 908.5 L506 926 M526.1 946.4 L526.1 950.5 L649 883.5 L649 880" stroke="#222" stroke-width="0.8" fill="none" />
<path d="M580.6 844 L597 853 L597 865 L587 860 L587 847 M587 841.3 L603.5 850.5 L603.5 866.5 L597 865" stroke="#222" stroke-width="0.8" fill="none" />
<ellipse cx="582.4" cy="875.1" rx="3.2" ry="2.0" stroke="#222" stroke-width="0.8" fill="none"/>
<ellipse cx="531.5" cy="912.5" rx="3.2" ry="2.0" stroke="#222" stroke-width="0.8" fill="none"/>
<ellipse cx="651.9" cy="886.4" rx="5.9" ry="8.5" stroke="#222" stroke-width="0.9" fill="none"/>
<ellipse cx="652.3" cy="887.0" rx="3.0" ry="4.5" stroke="#222" stroke-width="0.7" fill="#bbb"/>
<path d="M646 878 L654 877.5 Q659 880 658 888" stroke="#222" stroke-width="0.7" fill="none" />
<path d="M498.6 941.1 L526.1 953.3 M495.5 956.3 L521.5 967" stroke="#222" stroke-width="0.9" fill="none" />
<ellipse cx="523.0" cy="959.4" rx="5.7" ry="8.4" stroke="#222" stroke-width="0.9" fill="#fff"/>
<ellipse cx="523.5" cy="960.0" rx="3.0" ry="4.5" stroke="#222" stroke-width="0.7" fill="#bbb"/>
<path d="M497.0 956.5 L496.6 956.5 L496.3 956.4 L495.9 956.3 L495.6 956.1 L495.3 955.9 L495.0 955.6 L494.6 955.4 L494.4 955.0 L494.1 954.6 L493.8 954.2 L493.6 953.8 L493.4 953.3 L493.2 952.8 L493.0 952.2 L492.8 951.7 L492.7 951.1 L492.6 950.5 L492.6 949.9 L492.5 949.3 L492.5 948.7 L492.5 948.1 L492.6 947.5 L492.6 946.9 L492.7 946.3 L492.8 945.7 L493.0 945.2 L493.2 944.6 L493.4 944.1 L493.6 943.6 L493.8 943.2 L494.1 942.8 L494.4 942.4 L494.6 942.0 L495.0 941.8 L495.3 941.5 L495.6 941.3 L495.9 941.1 L496.3 941.0 L496.6 940.9 L497.0 940.9" stroke="#222" stroke-width="0.8" fill="none" />
<path d="M474 918 Q470 925 474 935 L489.4 938 M480 912 L486 915" stroke="#222" stroke-width="0.8" fill="none" />
<ellipse cx="498.5" cy="922.5" rx="3.0" ry="4.3" stroke="#222" stroke-width="0.8" fill="#aaa"/>
<path d="M526.7 950 L528.3 990 Q532 1005 541.7 1013.3 Q552 1022 565 1026.7 Q576 1031 588.3 1031.7 Q600 1030.5 611.7 1025 Q623 1015 631.7 1000 Q639 987 641.7 973.3 Q645 957 645 940 L646.7 913.3" stroke="#222" stroke-width="0.9" fill="none" />
<path d="M531.5 952 L532.5 990 Q536 1003 545 1010.5 Q555 1018.5 566 1022.5 Q577 1026.5 588.3 1027 Q599 1026 609 1021 Q619 1012 627 999 Q634 987 637 973 Q640 958 640.5 940 L641.5 912" stroke="#222" stroke-width="0.6" fill="none" />
<path d="M505 960 Q503.5 985 505 1000 Q508 1010 513.3 1013.3 Q520 1024 531.7 1030 Q545 1035 560 1036 L585 1036" stroke="#222" stroke-width="0.9" fill="none" />
<path d="M476 938 V985 Q480 1005 494 1018 L505 1022" stroke="#222" stroke-width="0.8" fill="none" />
<path d="M480 960 Q474 965 476 975 L488 975 M478 990 Q484 988 488 995 L490 1000" stroke="#222" stroke-width="0.7" fill="none" />
<path d="M478 918 Q472 922 473 930 Q475 937 481 938 M479 976 Q473 980 474 988 Q476 995 482 996 M480 1000 Q475 1004 477 1011 L484 1014" stroke="#222" stroke-width="0.8" fill="none" />
<ellipse cx="487.0" cy="968.0" rx="2.5" ry="3.5" stroke="#222" stroke-width="0.7" fill="none"/>
<path d="M484 962 L492 965 L492 975 L484 972 Z" stroke="#222" stroke-width="0.7" fill="none" />
<path d="M583 1028 L583 1040 L592 1040 L595 1030" stroke="#222" stroke-width="0.8" fill="none" />
<path d="M490 925 L495 932 M486 942 Q490 950 496 955" stroke="#222" stroke-width="0.6" fill="none" />
<ellipse cx="586.7" cy="1035.0" rx="4.5" ry="3.5" stroke="#222" stroke-width="0.8" fill="none"/>
<path d="M578 1031 Q578 1038 583 1040 M595 1031 Q596 1038 591 1040" stroke="#222" stroke-width="0.7" fill="none" />
<ellipse cx="563.3" cy="947.5" rx="20.0" ry="25.8" stroke="#222" stroke-width="0.9" fill="none"/>
<ellipse cx="565.0" cy="948.5" rx="13.5" ry="18.0" stroke="#222" stroke-width="0.9" fill="none"/>
<ellipse cx="566.0" cy="949.0" rx="10.5" ry="14.5" stroke="#222" stroke-width="0.7" fill="none"/>
<path d="M546 940 Q543 955 550 968" stroke="#222" stroke-width="0.6" fill="none" />
<path d="M578 972 L588 969 L590 976 L582 980 Z" stroke="#222" stroke-width="0.8" fill="none" />
<path d="M575 970 L585 985 M571 974 L578 990" stroke="#222" stroke-width="0.6" fill="none" />
<path d="M583 929 L641 900 M585 934 L641 905" stroke="#222" stroke-width="0.8" fill="none" />
<path d="M636.2 905 V945" stroke="#222" stroke-width="0.6" fill="none" />
<path d="M541.7 973 V1002 M546 975 V1003 M560 973 V1006 M564 973 V1006 L546 1003" stroke="#222" stroke-width="0.8" fill="none" />
<path d="M533 1003 L588 1022 M564 1006 L592 1016" stroke="#222" stroke-width="0.8" fill="none" />
<path d="M532 975 L541.7 980 M530 990 L541.7 985 L541 995" stroke="#222" stroke-width="0.7" fill="none" />
<path d="M564 990 L574 996 L568 1004" stroke="#222" stroke-width="0.7" fill="none" />
<path d="M646.7 913.3 L651.7 926.7 L688.3 946.7 L687 951 L655 966.7 L645 970" stroke="#222" stroke-width="0.9" fill="none" />
<path d="M652 932 L684 948 M655 940 L668 958 L682 951 M650 952 L656 966" stroke="#222" stroke-width="0.7" fill="none" />
<path d="M648.9 883.5 Q645 895 646.7 913.3" stroke="#222" stroke-width="0.9" fill="none" />
<ellipse cx="646.7" cy="913.3" rx="3.6" ry="5.0" stroke="#222" stroke-width="0.9" fill="none"/>
<path d="M652 896 Q657 900 656 908" stroke="#222" stroke-width="0.6" fill="none" />
<path d="M646 977.5 Q636 981 635.5 994 Q636 1008 645 1013 Q649 1014.5 652 1013" stroke="#222" stroke-width="0.9" fill="none" />
<ellipse cx="652.5" cy="995.0" rx="13.2" ry="18.4" stroke="#222" stroke-width="0.9" fill="none"/>
<ellipse cx="652.0" cy="995.5" rx="10.0" ry="14.5" stroke="#222" stroke-width="0.8" fill="none"/>
<ellipse cx="651.0" cy="996.0" rx="7.0" ry="10.5" stroke="#222" stroke-width="0.8" fill="none"/>
<ellipse cx="651.0" cy="996.0" rx="5.0" ry="8.0" stroke="#222" stroke-width="0.7" fill="none"/>
<line x1="228.3" y1="755.0" x2="331.4" y2="811.5" stroke="#777" stroke-width="0.8"/>
<line x1="344.0" y1="818.0" x2="478.0" y2="889.0" stroke="#777" stroke-width="0.8"/>
<line x1="297.0" y1="808.8" x2="326.0" y2="824.0" stroke="#777" stroke-width="0.8"/>
<line x1="340.0" y1="831.5" x2="478.0" y2="904.5" stroke="#777" stroke-width="0.8"/>
<line x1="312.4" y1="832.3" x2="366.0" y2="859.0" stroke="#777" stroke-width="0.8"/>
<line x1="392.0" y1="864.0" x2="478.0" y2="908.0" stroke="#777" stroke-width="0.8"/>
<line x1="223.3" y1="830.6" x2="478.0" y2="973.0" stroke="#777" stroke-width="0.8"/>
<line x1="228.0" y1="834.0" x2="272.0" y2="858.0" stroke="#777" stroke-width="0.8"/>
<line x1="270.0" y1="856.6" x2="306.1" y2="878.3" stroke="#777" stroke-width="0.8"/>
<line x1="436.7" y1="794.4" x2="478.0" y2="816.0" stroke="#777" stroke-width="0.8"/>
<line x1="405.6" y1="866.7" x2="478.0" y2="905.0" stroke="#777" stroke-width="0.8"/>
<line x1="560.0" y1="943.0" x2="641.0" y2="988.0" stroke="#777" stroke-width="0.8"/>
<line x1="300.0" y1="695.0" x2="318.0" y2="704.0" stroke="#777" stroke-width="0.8"/>
</g>
</svg>
</body></html>
